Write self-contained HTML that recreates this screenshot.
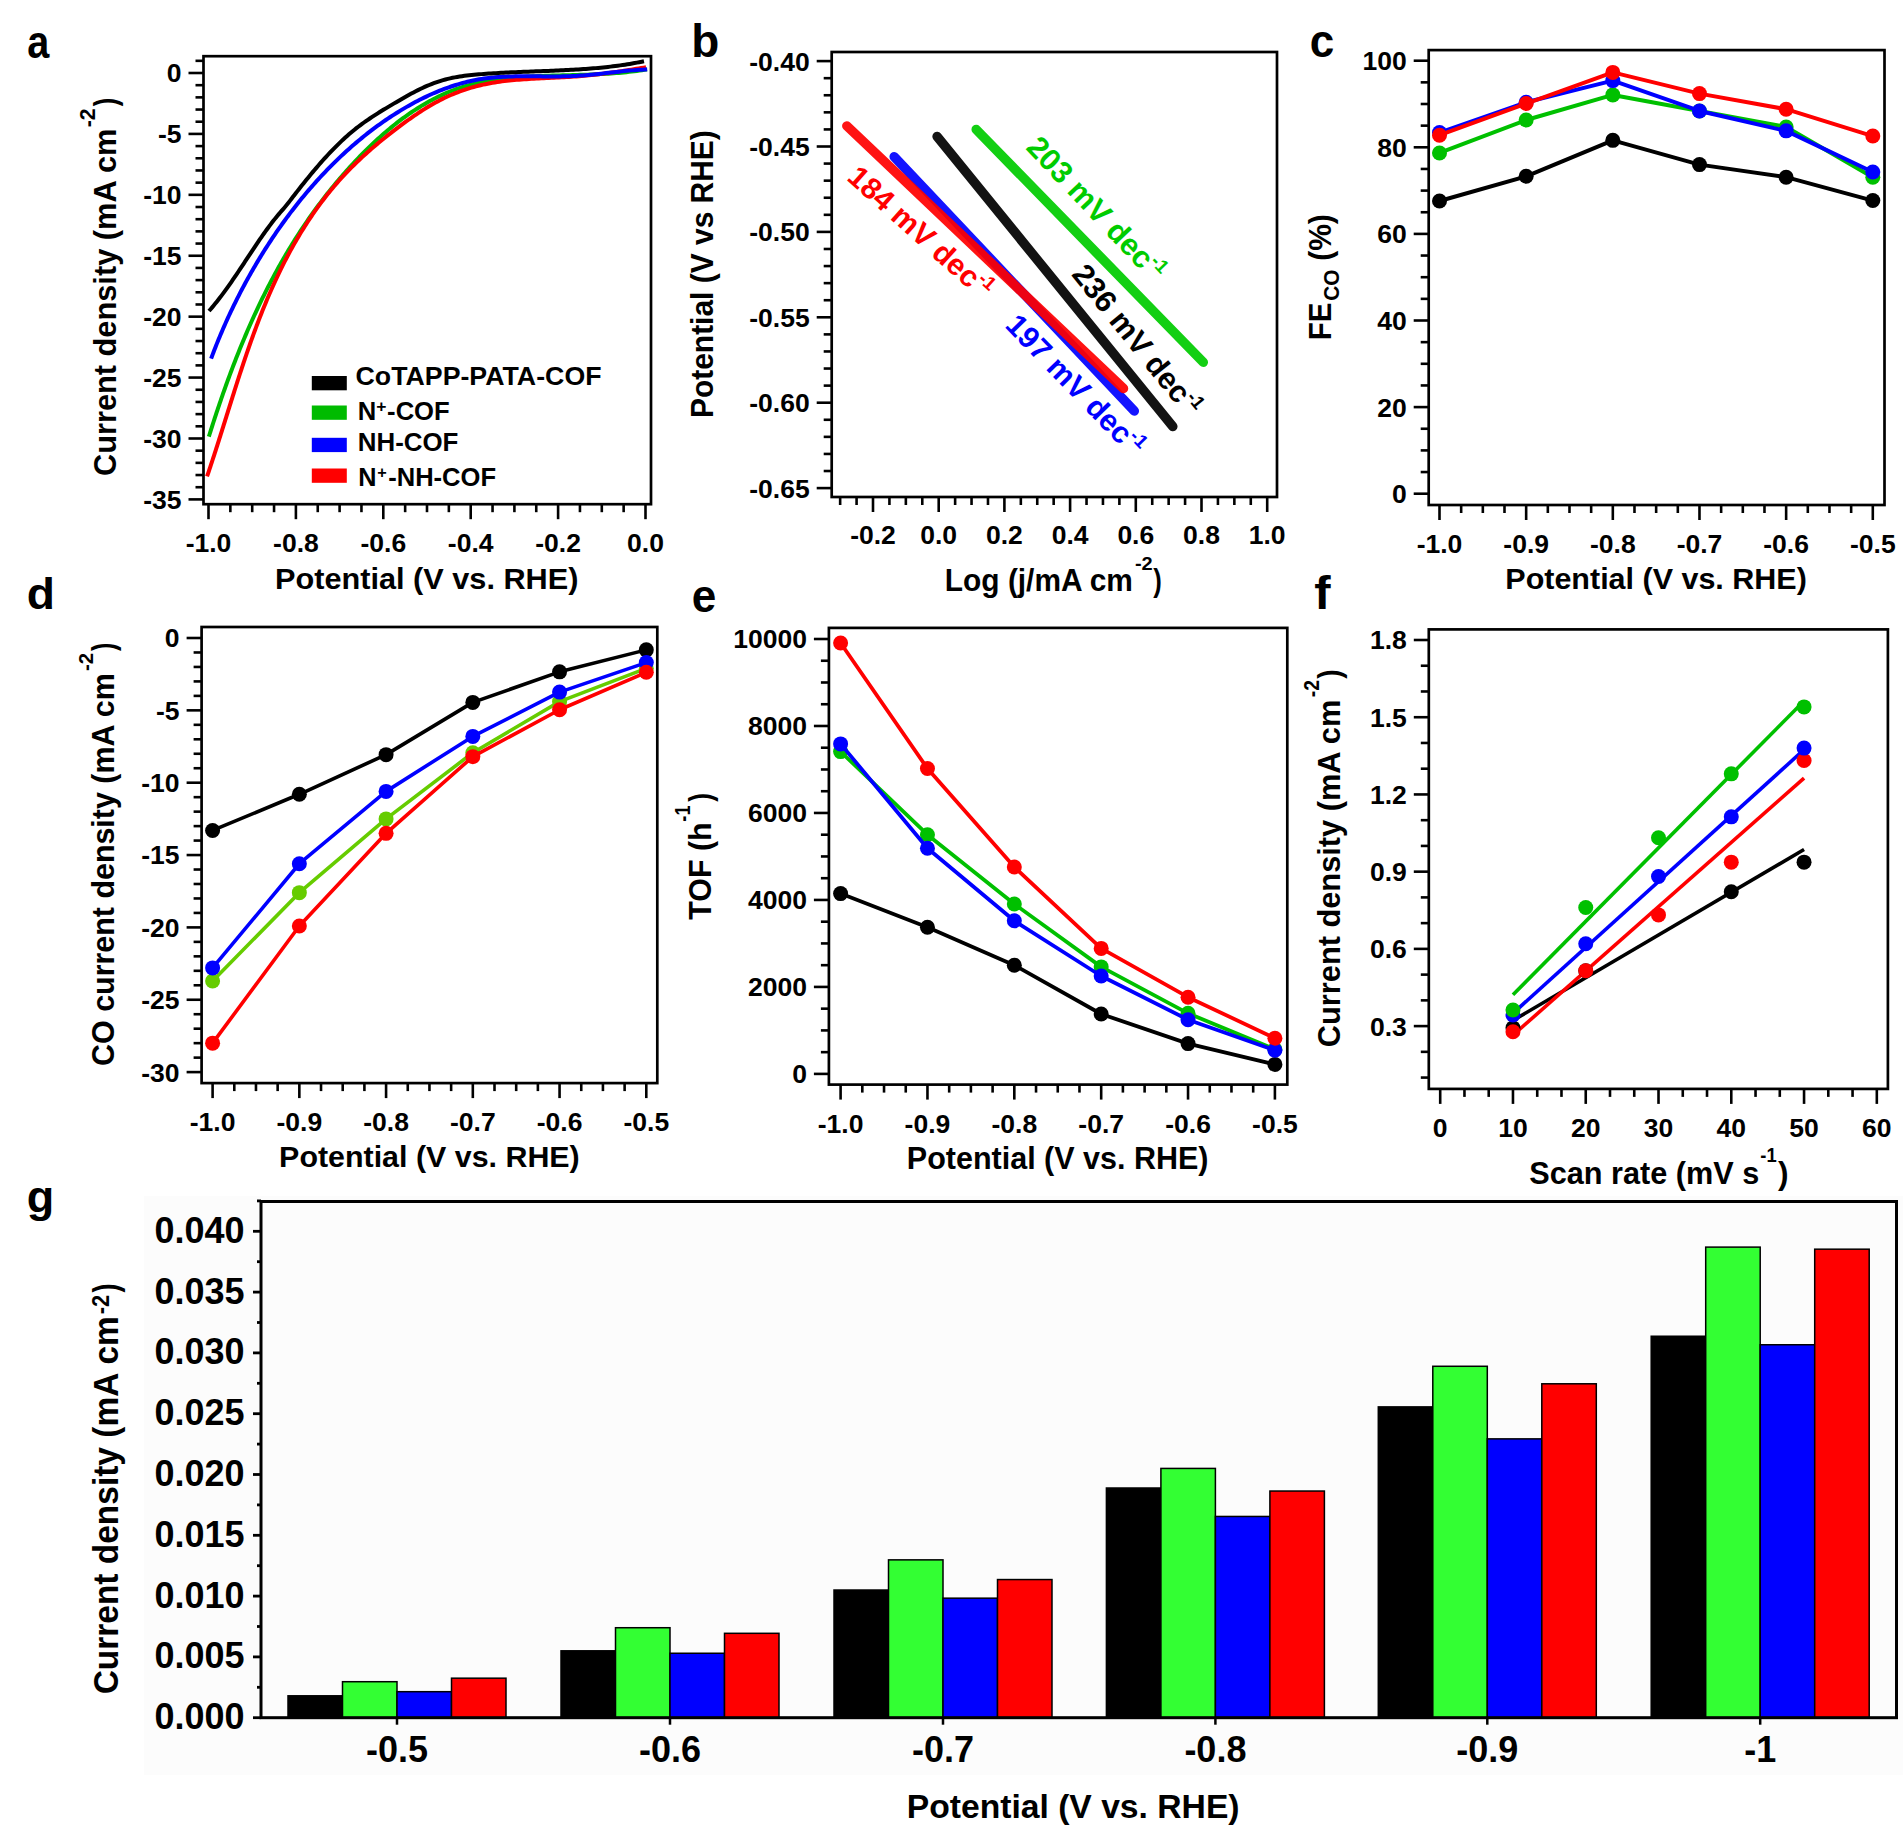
<!DOCTYPE html>
<html><head><meta charset="utf-8"><style>
html,body{margin:0;padding:0;background:#fff;}
svg{display:block;}
text{font-family:"Liberation Sans", sans-serif;font-weight:bold;}
</style></head><body>
<svg width="1903" height="1846" viewBox="0 0 1903 1846">
<rect width="1903" height="1846" fill="#fff"/>
<text transform="translate(27.31 58.23) scale(0.1981 0.2336)" font-size="200" fill="#000">a</text>
<text transform="translate(691.21 57.25) scale(0.2297 0.2272)" font-size="200" fill="#000">b</text>
<text transform="translate(1309.66 57.34) scale(0.2202 0.2318)" font-size="200" fill="#000">c</text>
<text transform="translate(26.65 608.66) scale(0.2307 0.2211)" font-size="200" fill="#000">d</text>
<text transform="translate(691.76 611.53) scale(0.2204 0.2355)" font-size="200" fill="#000">e</text>
<text transform="translate(1314.16 609.47) scale(0.2453 0.2308)" font-size="200" fill="#000">f</text>
<text transform="translate(26.70 1211.95) scale(0.2248 0.2245)" font-size="200" fill="#000">g</text>
<polyline points="208.84,436.65 209.60,434.24 210.35,431.84 211.11,429.43 211.88,427.03 212.65,424.63 213.42,422.24 214.20,419.84 214.98,417.45 215.76,415.06 216.55,412.68 217.34,410.29 218.14,407.91 218.95,405.53 219.75,403.16 220.57,400.79 221.38,398.42 222.20,396.05 223.03,393.68 223.86,391.32 224.70,388.96 225.54,386.61 226.38,384.26 227.23,381.91 228.09,379.56 228.95,377.22 229.82,374.88 230.69,372.54 231.56,370.21 232.45,367.88 233.34,365.55 234.23,363.23 235.13,360.91 236.03,358.59 236.94,356.28 237.86,353.97 238.78,351.66 239.71,349.36 240.64,347.06 241.58,344.77 242.53,342.48 243.48,340.19 244.44,337.90 245.41,335.62 246.38,333.35 247.35,331.08 248.34,328.81 249.33,326.54 250.33,324.28 251.33,322.03 252.34,319.78 253.36,317.53 254.38,315.28 255.41,313.04 256.45,310.81 257.49,308.58 258.54,306.35 259.60,304.13 260.67,301.91 261.74,299.70 262.82,297.49 263.91,295.28 265.00,293.09 266.11,290.89 267.22,288.70 268.33,286.51 269.46,284.33 270.59,282.16 271.73,279.98 272.88,277.82 274.04,275.65 275.20,273.50 276.37,271.34 277.55,269.20 278.74,267.06 279.94,264.92 281.14,262.79 282.36,260.66 283.58,258.54 284.81,256.42 286.04,254.31 287.29,252.20 288.55,250.10 289.81,248.01 291.08,245.92 292.36,243.83 293.65,241.75 294.95,239.68 296.26,237.61 297.58,235.55 298.90,233.49 300.24,231.44 301.58,229.39 302.94,227.35 304.30,225.32 305.67,223.29 307.05,221.27 308.44,219.25 309.84,217.24 311.25,215.24 312.67,213.24 314.10,211.25 315.54,209.26 316.99,207.28 318.45,205.30 319.92,203.34 321.40,201.37 322.89,199.42 324.39,197.47 325.90,195.53 327.41,193.59 328.94,191.66 330.48,189.74 332.03,187.82 333.60,185.91 335.17,184.00 336.75,182.11 338.34,180.21 339.95,178.33 341.56,176.45 343.18,174.58 344.82,172.72 346.47,170.86 348.13,169.01 349.79,167.17 351.47,165.33 353.17,163.50 354.87,161.68 356.58,159.86 358.31,158.06 360.04,156.26 361.79,154.46 363.55,152.68 365.32,150.91 367.10,149.14 368.89,147.39 370.70,145.65 372.51,143.92 374.34,142.20 376.18,140.49 378.02,138.80 379.88,137.12 381.75,135.45 383.63,133.80 385.52,132.17 387.43,130.55 389.34,128.94 391.26,127.36 393.20,125.79 395.14,124.23 397.10,122.70 399.06,121.19 401.04,119.69 403.03,118.22 405.03,116.76 407.04,115.33 409.06,113.91 411.09,112.52 413.13,111.15 415.18,109.81 417.24,108.49 419.31,107.19 421.39,105.91 423.48,104.66 425.58,103.44 427.70,102.24 429.82,101.07 431.95,99.92 434.10,98.80 436.25,97.71 438.41,96.65 440.58,95.62 442.77,94.61 444.96,93.63 447.16,92.69 449.38,91.77 451.60,90.89 453.83,90.03 456.07,89.21 458.33,88.42 460.59,87.66 462.86,86.94 465.14,86.24 467.43,85.58 469.73,84.94 472.04,84.33 474.35,83.75 476.68,83.20 479.01,82.68 481.36,82.18 483.71,81.70 486.07,81.25 488.43,80.82 490.81,80.42 493.19,80.04 495.58,79.68 497.98,79.34 500.38,79.02 502.79,78.71 505.21,78.43 507.64,78.17 510.07,77.92 512.50,77.68 514.95,77.47 517.40,77.27 519.86,77.08 522.32,76.90 524.79,76.74 527.26,76.59 529.74,76.45 532.22,76.32 534.71,76.20 537.21,76.09 539.70,75.99 542.21,75.89 544.72,75.81 547.23,75.72 549.75,75.65 552.27,75.58 554.79,75.51 557.32,75.44 559.85,75.38 562.39,75.32 564.93,75.26 567.47,75.19 570.01,75.13 572.56,75.07 575.11,75.01 577.67,74.94 580.22,74.87 582.78,74.79 585.34,74.71 587.90,74.63 590.47,74.53 593.04,74.44 595.60,74.33 598.17,74.21 600.74,74.09 603.31,73.95 605.89,73.81 608.46,73.65 611.03,73.48 613.61,73.29 616.18,73.10 618.76,72.89 621.33,72.66 623.91,72.42 626.48,72.16 629.06,71.88 631.63,71.59 634.20,71.27 636.78,70.94 639.35,70.59 641.92,70.21 644.49,69.82 647.05,69.40" fill="none" stroke="#00bb00" stroke-width="4" stroke-linejoin="round"/>
<polyline points="207.05,476.46 207.85,474.12 208.64,471.77 209.43,469.42 210.22,467.07 211.00,464.72 211.78,462.36 212.55,460.00 213.32,457.65 214.09,455.28 214.86,452.92 215.62,450.56 216.38,448.19 217.14,445.82 217.90,443.45 218.65,441.08 219.40,438.71 220.15,436.34 220.90,433.96 221.65,431.59 222.40,429.21 223.15,426.83 223.89,424.46 224.64,422.08 225.38,419.70 226.13,417.32 226.87,414.94 227.62,412.56 228.36,410.18 229.11,407.80 229.86,405.42 230.60,403.04 231.35,400.66 232.10,398.28 232.85,395.90 233.61,393.52 234.36,391.14 235.12,388.76 235.88,386.38 236.64,384.00 237.40,381.63 238.17,379.25 238.94,376.88 239.71,374.50 240.48,372.13 241.26,369.76 242.04,367.39 242.83,365.02 243.62,362.65 244.41,360.28 245.21,357.92 246.01,355.56 246.82,353.19 247.63,350.84 248.45,348.48 249.27,346.12 250.10,343.77 250.93,341.42 251.77,339.07 252.61,336.72 253.46,334.38 254.32,332.04 255.18,329.70 256.05,327.37 256.93,325.03 257.81,322.70 258.70,320.37 259.59,318.05 260.50,315.73 261.41,313.41 262.33,311.10 263.26,308.79 264.19,306.48 265.14,304.17 266.09,301.87 267.05,299.58 268.02,297.28 269.00,295.00 269.99,292.71 270.98,290.43 271.99,288.15 273.01,285.88 274.03,283.61 275.07,281.35 276.11,279.09 277.17,276.83 278.24,274.58 279.32,272.34 280.41,270.10 281.51,267.86 282.62,265.63 283.74,263.40 284.87,261.18 286.02,258.97 287.18,256.76 288.35,254.55 289.53,252.36 290.73,250.16 291.93,247.97 293.15,245.79 294.39,243.62 295.63,241.45 296.89,239.29 298.16,237.13 299.45,234.98 300.74,232.84 302.05,230.71 303.37,228.59 304.70,226.47 306.05,224.37 307.41,222.27 308.78,220.19 310.16,218.11 311.56,216.05 312.96,213.99 314.38,211.95 315.81,209.92 317.26,207.89 318.71,205.89 320.18,203.89 321.66,201.91 323.15,199.93 324.65,197.98 326.17,196.03 327.70,194.10 329.24,192.19 330.79,190.29 332.35,188.40 333.93,186.53 335.51,184.67 337.11,182.83 338.72,181.01 340.34,179.20 341.97,177.40 343.62,175.62 345.27,173.86 346.94,172.10 348.62,170.36 350.31,168.64 352.01,166.92 353.73,165.22 355.45,163.54 357.19,161.86 358.94,160.20 360.69,158.54 362.46,156.90 364.24,155.27 366.04,153.65 367.84,152.04 369.65,150.43 371.48,148.84 373.32,147.26 375.16,145.69 377.02,144.12 378.89,142.56 380.77,141.01 382.66,139.47 384.56,137.94 386.48,136.41 388.40,134.89 390.33,133.37 392.28,131.86 394.23,130.36 396.20,128.86 398.18,127.37 400.16,125.88 402.16,124.40 404.17,122.93 406.19,121.46 408.22,120.00 410.26,118.56 412.31,117.12 414.37,115.70 416.44,114.30 418.52,112.91 420.61,111.54 422.71,110.19 424.82,108.86 426.94,107.56 429.07,106.27 431.21,105.01 433.36,103.78 435.52,102.58 437.68,101.40 439.86,100.25 442.05,99.14 444.25,98.06 446.45,97.01 448.67,96.00 450.89,95.02 453.13,94.07 455.37,93.15 457.62,92.27 459.88,91.42 462.15,90.61 464.43,89.82 466.72,89.07 469.02,88.35 471.32,87.66 473.64,87.00 475.96,86.37 478.29,85.77 480.63,85.21 482.98,84.67 485.34,84.17 487.70,83.70 490.07,83.25 492.45,82.83 494.84,82.43 497.24,82.06 499.64,81.72 502.05,81.39 504.46,81.09 506.89,80.81 509.32,80.54 511.75,80.30 514.19,80.07 516.64,79.85 519.09,79.65 521.54,79.47 524.01,79.29 526.47,79.13 528.94,78.97 531.42,78.83 533.89,78.69 536.38,78.56 538.86,78.44 541.35,78.31 543.84,78.20 546.34,78.08 548.84,77.96 551.34,77.85 553.84,77.73 556.35,77.61 558.85,77.48 561.36,77.35 563.87,77.22 566.38,77.08 568.89,76.92 571.40,76.76 573.92,76.59 576.43,76.41 578.94,76.21 581.46,76.00 583.97,75.78 586.48,75.55 588.99,75.30 591.50,75.04 594.01,74.76 596.52,74.48 599.03,74.19 601.53,73.88 604.03,73.57 606.53,73.25 609.03,72.92 611.52,72.58 614.01,72.23 616.50,71.87 618.99,71.51 621.47,71.14 623.95,70.77 626.42,70.39 628.89,70.01 631.35,69.62 633.81,69.22 636.27,68.83 638.72,68.43 641.16,68.02 643.60,67.62 646.03,67.21" fill="none" stroke="#ff0000" stroke-width="4" stroke-linejoin="round"/>
<polyline points="211.11,358.61 211.90,356.48 212.70,354.35 213.51,352.21 214.34,350.07 215.17,347.92 216.02,345.78 216.87,343.63 217.74,341.48 218.62,339.32 219.51,337.17 220.41,335.01 221.33,332.85 222.25,330.69 223.18,328.53 224.13,326.37 225.09,324.20 226.05,322.03 227.03,319.87 228.02,317.70 229.02,315.53 230.03,313.36 231.05,311.20 232.09,309.03 233.13,306.86 234.19,304.69 235.25,302.52 236.33,300.36 237.42,298.19 238.51,296.03 239.62,293.86 240.74,291.70 241.87,289.54 243.01,287.37 244.17,285.22 245.33,283.06 246.50,280.90 247.68,278.75 248.88,276.60 250.08,274.45 251.30,272.31 252.53,270.16 253.76,268.02 255.01,265.89 256.27,263.75 257.54,261.62 258.82,259.50 260.11,257.37 261.41,255.25 262.72,253.14 264.04,251.03 265.37,248.92 266.71,246.82 268.07,244.72 269.43,242.63 270.80,240.54 272.19,238.46 273.58,236.38 274.99,234.31 276.40,232.24 277.83,230.18 279.26,228.13 280.71,226.08 282.17,224.03 283.63,222.00 285.11,219.97 286.60,217.94 288.10,215.93 289.60,213.92 291.12,211.91 292.65,209.92 294.19,207.93 295.74,205.95 297.29,203.98 298.86,202.01 300.44,200.06 302.03,198.11 303.63,196.17 305.24,194.23 306.86,192.31 308.49,190.40 310.13,188.49 311.78,186.60 313.44,184.71 315.11,182.83 316.79,180.96 318.48,179.11 320.17,177.26 321.88,175.42 323.60,173.59 325.33,171.77 327.07,169.97 328.82,168.17 330.58,166.39 332.35,164.61 334.13,162.85 335.91,161.10 337.71,159.36 339.52,157.63 341.34,155.91 343.17,154.20 345.00,152.51 346.85,150.83 348.71,149.16 350.57,147.51 352.45,145.86 354.33,144.23 356.23,142.62 358.13,141.01 360.05,139.42 361.97,137.84 363.91,136.28 365.85,134.73 367.80,133.19 369.77,131.67 371.74,130.16 373.72,128.67 375.71,127.19 377.71,125.73 379.72,124.28 381.74,122.85 383.77,121.43 385.81,120.02 387.86,118.64 389.91,117.27 391.98,115.91 394.06,114.57 396.14,113.24 398.24,111.94 400.34,110.65 402.45,109.37 404.58,108.11 406.71,106.87 408.85,105.65 411.00,104.45 413.16,103.26 415.32,102.10 417.50,100.95 419.69,99.83 421.88,98.72 424.08,97.64 426.29,96.58 428.51,95.54 430.73,94.52 432.97,93.53 435.21,92.56 437.46,91.62 439.72,90.70 441.98,89.80 444.26,88.93 446.54,88.09 448.82,87.28 451.12,86.49 453.42,85.73 455.73,84.99 458.05,84.29 460.37,83.62 462.70,82.97 465.04,82.36 467.38,81.77 469.73,81.22 472.08,80.70 474.45,80.21 476.81,79.75 479.19,79.32 481.57,78.93 483.95,78.58 486.35,78.25 488.74,77.96 491.15,77.69 493.56,77.46 495.97,77.25 498.39,77.06 500.82,76.90 503.25,76.76 505.68,76.65 508.12,76.55 510.57,76.47 513.02,76.40 515.47,76.35 517.93,76.32 520.39,76.29 522.86,76.28 525.33,76.28 527.81,76.28 530.29,76.29 532.77,76.31 535.26,76.32 537.76,76.34 540.25,76.37 542.75,76.39 545.25,76.40 547.76,76.42 550.27,76.42 552.78,76.43 555.30,76.42 557.82,76.40 560.34,76.38 562.87,76.34 565.39,76.28 567.92,76.21 570.46,76.13 572.99,76.02 575.53,75.90 578.07,75.75 580.61,75.59 583.16,75.40 585.70,75.19 588.25,74.97 590.80,74.73 593.35,74.48 595.91,74.21 598.46,73.94 601.02,73.66 603.58,73.38 606.14,73.09 608.70,72.79 611.26,72.50 613.82,72.21 616.38,71.93 618.95,71.64 621.51,71.37 624.08,71.11 626.64,70.85 629.21,70.61 631.77,70.38 634.34,70.18 636.91,69.98 639.47,69.81 642.04,69.66 644.61,69.54 647.17,69.44" fill="none" stroke="#0000ff" stroke-width="4" stroke-linejoin="round"/>
<polyline points="209.00,311.02 210.59,309.19 212.16,307.34 213.72,305.47 215.27,303.58 216.80,301.67 218.32,299.74 219.83,297.80 221.32,295.84 222.81,293.87 224.28,291.88 225.74,289.88 227.19,287.87 228.63,285.84 230.06,283.81 231.48,281.78 232.89,279.73 234.30,277.68 235.69,275.63 237.08,273.57 238.46,271.51 239.84,269.45 241.21,267.39 242.57,265.33 243.93,263.28 245.28,261.22 246.63,259.18 247.98,257.14 249.32,255.10 250.66,253.08 251.99,251.06 253.33,249.06 254.66,247.06 255.99,245.08 257.32,243.11 258.65,241.16 259.97,239.22 261.30,237.30 262.63,235.39 263.96,233.50 265.30,231.63 266.63,229.78 267.97,227.95 269.31,226.14 270.65,224.35 272.00,222.58 273.36,220.84 274.71,219.12 276.07,217.42 277.44,215.75 278.82,214.11 280.20,212.49 281.58,210.90 282.98,209.31 284.38,207.68 285.79,206.01 287.21,204.27 288.64,202.46 290.08,200.61 291.53,198.73 292.98,196.84 294.45,194.94 295.93,193.04 297.42,191.13 298.92,189.21 300.43,187.29 301.96,185.37 303.49,183.44 305.03,181.52 306.58,179.59 308.15,177.66 309.72,175.74 311.31,173.82 312.90,171.90 314.51,169.99 316.13,168.09 317.75,166.19 319.39,164.30 321.04,162.41 322.70,160.54 324.38,158.68 326.06,156.83 327.75,154.99 329.46,153.17 331.17,151.36 332.90,149.57 334.64,147.80 336.39,146.04 338.15,144.30 339.92,142.59 341.70,140.89 343.49,139.22 345.30,137.56 347.12,135.94 348.94,134.33 350.78,132.76 352.63,131.21 354.49,129.68 356.37,128.19 358.25,126.73 360.15,125.29 362.06,123.88 363.97,122.50 365.90,121.13 367.85,119.79 369.80,118.47 371.77,117.16 373.74,115.87 375.73,114.59 377.73,113.32 379.74,112.07 381.77,110.82 383.80,109.58 385.85,108.34 387.91,107.11 389.98,105.87 392.07,104.64 394.16,103.40 396.27,102.16 398.39,100.91 400.52,99.66 402.66,98.42 404.82,97.19 406.98,95.97 409.16,94.76 411.35,93.57 413.55,92.40 415.76,91.26 417.99,90.13 420.22,89.04 422.46,87.97 424.71,86.94 426.98,85.94 429.25,84.98 431.53,84.05 433.82,83.17 436.12,82.33 438.43,81.54 440.75,80.80 443.08,80.11 445.41,79.47 447.75,78.88 450.11,78.33 452.46,77.82 454.83,77.36 457.20,76.93 459.58,76.53 461.97,76.17 464.37,75.84 466.77,75.53 469.17,75.25 471.59,74.99 474.01,74.75 476.43,74.53 478.86,74.32 481.30,74.13 483.74,73.94 486.18,73.76 488.64,73.59 491.09,73.43 493.55,73.28 496.01,73.13 498.48,72.99 500.95,72.85 503.43,72.72 505.91,72.60 508.39,72.48 510.87,72.36 513.36,72.25 515.85,72.14 518.34,72.04 520.84,71.94 523.33,71.84 525.83,71.74 528.33,71.65 530.83,71.55 533.34,71.46 535.84,71.36 538.34,71.27 540.85,71.18 543.35,71.08 545.86,70.98 548.37,70.89 550.87,70.78 553.38,70.68 555.88,70.58 558.38,70.47 560.89,70.35 563.39,70.23 565.89,70.11 568.39,69.98 570.88,69.85 573.38,69.71 575.87,69.57 578.36,69.41 580.85,69.25 583.33,69.09 585.82,68.91 588.30,68.73 590.77,68.54 593.24,68.33 595.71,68.12 598.18,67.90 600.64,67.67 603.09,67.43 605.54,67.17 607.99,66.91 610.43,66.63 612.87,66.34 615.30,66.03 617.73,65.72 620.15,65.38 622.56,65.04 624.97,64.68 627.37,64.30 629.77,63.91 632.15,63.51 634.54,63.09 636.91,62.65 639.28,62.19 641.64,61.72 643.99,61.22" fill="none" stroke="#000000" stroke-width="4" stroke-linejoin="round"/>
<rect x="203.50" y="56.20" width="447.50" height="448.00" fill="none" stroke="#000" stroke-width="2.7"/>
<line x1="188.50" y1="499.40" x2="203.50" y2="499.40" stroke="#000" stroke-width="2.6" stroke-linecap="butt"/>
<line x1="195.50" y1="487.22" x2="203.50" y2="487.22" stroke="#000" stroke-width="2.6" stroke-linecap="butt"/>
<line x1="195.50" y1="475.04" x2="203.50" y2="475.04" stroke="#000" stroke-width="2.6" stroke-linecap="butt"/>
<line x1="195.50" y1="462.86" x2="203.50" y2="462.86" stroke="#000" stroke-width="2.6" stroke-linecap="butt"/>
<line x1="195.50" y1="450.67" x2="203.50" y2="450.67" stroke="#000" stroke-width="2.6" stroke-linecap="butt"/>
<line x1="188.50" y1="438.49" x2="203.50" y2="438.49" stroke="#000" stroke-width="2.6" stroke-linecap="butt"/>
<line x1="195.50" y1="426.31" x2="203.50" y2="426.31" stroke="#000" stroke-width="2.6" stroke-linecap="butt"/>
<line x1="195.50" y1="414.12" x2="203.50" y2="414.12" stroke="#000" stroke-width="2.6" stroke-linecap="butt"/>
<line x1="195.50" y1="401.94" x2="203.50" y2="401.94" stroke="#000" stroke-width="2.6" stroke-linecap="butt"/>
<line x1="195.50" y1="389.76" x2="203.50" y2="389.76" stroke="#000" stroke-width="2.6" stroke-linecap="butt"/>
<line x1="188.50" y1="377.57" x2="203.50" y2="377.57" stroke="#000" stroke-width="2.6" stroke-linecap="butt"/>
<line x1="195.50" y1="365.39" x2="203.50" y2="365.39" stroke="#000" stroke-width="2.6" stroke-linecap="butt"/>
<line x1="195.50" y1="353.21" x2="203.50" y2="353.21" stroke="#000" stroke-width="2.6" stroke-linecap="butt"/>
<line x1="195.50" y1="341.03" x2="203.50" y2="341.03" stroke="#000" stroke-width="2.6" stroke-linecap="butt"/>
<line x1="195.50" y1="328.84" x2="203.50" y2="328.84" stroke="#000" stroke-width="2.6" stroke-linecap="butt"/>
<line x1="188.50" y1="316.66" x2="203.50" y2="316.66" stroke="#000" stroke-width="2.6" stroke-linecap="butt"/>
<line x1="195.50" y1="304.48" x2="203.50" y2="304.48" stroke="#000" stroke-width="2.6" stroke-linecap="butt"/>
<line x1="195.50" y1="292.29" x2="203.50" y2="292.29" stroke="#000" stroke-width="2.6" stroke-linecap="butt"/>
<line x1="195.50" y1="280.11" x2="203.50" y2="280.11" stroke="#000" stroke-width="2.6" stroke-linecap="butt"/>
<line x1="195.50" y1="267.93" x2="203.50" y2="267.93" stroke="#000" stroke-width="2.6" stroke-linecap="butt"/>
<line x1="188.50" y1="255.75" x2="203.50" y2="255.75" stroke="#000" stroke-width="2.6" stroke-linecap="butt"/>
<line x1="195.50" y1="243.56" x2="203.50" y2="243.56" stroke="#000" stroke-width="2.6" stroke-linecap="butt"/>
<line x1="195.50" y1="231.38" x2="203.50" y2="231.38" stroke="#000" stroke-width="2.6" stroke-linecap="butt"/>
<line x1="195.50" y1="219.20" x2="203.50" y2="219.20" stroke="#000" stroke-width="2.6" stroke-linecap="butt"/>
<line x1="195.50" y1="207.01" x2="203.50" y2="207.01" stroke="#000" stroke-width="2.6" stroke-linecap="butt"/>
<line x1="188.50" y1="194.83" x2="203.50" y2="194.83" stroke="#000" stroke-width="2.6" stroke-linecap="butt"/>
<line x1="195.50" y1="182.65" x2="203.50" y2="182.65" stroke="#000" stroke-width="2.6" stroke-linecap="butt"/>
<line x1="195.50" y1="170.46" x2="203.50" y2="170.46" stroke="#000" stroke-width="2.6" stroke-linecap="butt"/>
<line x1="195.50" y1="158.28" x2="203.50" y2="158.28" stroke="#000" stroke-width="2.6" stroke-linecap="butt"/>
<line x1="195.50" y1="146.10" x2="203.50" y2="146.10" stroke="#000" stroke-width="2.6" stroke-linecap="butt"/>
<line x1="188.50" y1="133.91" x2="203.50" y2="133.91" stroke="#000" stroke-width="2.6" stroke-linecap="butt"/>
<line x1="195.50" y1="121.73" x2="203.50" y2="121.73" stroke="#000" stroke-width="2.6" stroke-linecap="butt"/>
<line x1="195.50" y1="109.55" x2="203.50" y2="109.55" stroke="#000" stroke-width="2.6" stroke-linecap="butt"/>
<line x1="195.50" y1="97.37" x2="203.50" y2="97.37" stroke="#000" stroke-width="2.6" stroke-linecap="butt"/>
<line x1="195.50" y1="85.18" x2="203.50" y2="85.18" stroke="#000" stroke-width="2.6" stroke-linecap="butt"/>
<line x1="188.50" y1="73.00" x2="203.50" y2="73.00" stroke="#000" stroke-width="2.6" stroke-linecap="butt"/>
<line x1="195.50" y1="60.82" x2="203.50" y2="60.82" stroke="#000" stroke-width="2.6" stroke-linecap="butt"/>
<text x="181.50" y="508.80" font-size="26.5" text-anchor="end" fill="#000">-35</text>
<text x="181.50" y="447.89" font-size="26.5" text-anchor="end" fill="#000">-30</text>
<text x="181.50" y="386.97" font-size="26.5" text-anchor="end" fill="#000">-25</text>
<text x="181.50" y="326.06" font-size="26.5" text-anchor="end" fill="#000">-20</text>
<text x="181.50" y="265.14" font-size="26.5" text-anchor="end" fill="#000">-15</text>
<text x="181.50" y="204.23" font-size="26.5" text-anchor="end" fill="#000">-10</text>
<text x="181.50" y="143.31" font-size="26.5" text-anchor="end" fill="#000">-5</text>
<text x="181.50" y="82.40" font-size="26.5" text-anchor="end" fill="#000">0</text>
<line x1="208.50" y1="504.20" x2="208.50" y2="519.20" stroke="#000" stroke-width="2.6" stroke-linecap="butt"/>
<line x1="230.35" y1="504.20" x2="230.35" y2="512.20" stroke="#000" stroke-width="2.6" stroke-linecap="butt"/>
<line x1="252.20" y1="504.20" x2="252.20" y2="512.20" stroke="#000" stroke-width="2.6" stroke-linecap="butt"/>
<line x1="274.05" y1="504.20" x2="274.05" y2="512.20" stroke="#000" stroke-width="2.6" stroke-linecap="butt"/>
<line x1="295.90" y1="504.20" x2="295.90" y2="519.20" stroke="#000" stroke-width="2.6" stroke-linecap="butt"/>
<line x1="317.75" y1="504.20" x2="317.75" y2="512.20" stroke="#000" stroke-width="2.6" stroke-linecap="butt"/>
<line x1="339.60" y1="504.20" x2="339.60" y2="512.20" stroke="#000" stroke-width="2.6" stroke-linecap="butt"/>
<line x1="361.45" y1="504.20" x2="361.45" y2="512.20" stroke="#000" stroke-width="2.6" stroke-linecap="butt"/>
<line x1="383.30" y1="504.20" x2="383.30" y2="519.20" stroke="#000" stroke-width="2.6" stroke-linecap="butt"/>
<line x1="405.15" y1="504.20" x2="405.15" y2="512.20" stroke="#000" stroke-width="2.6" stroke-linecap="butt"/>
<line x1="427.00" y1="504.20" x2="427.00" y2="512.20" stroke="#000" stroke-width="2.6" stroke-linecap="butt"/>
<line x1="448.85" y1="504.20" x2="448.85" y2="512.20" stroke="#000" stroke-width="2.6" stroke-linecap="butt"/>
<line x1="470.70" y1="504.20" x2="470.70" y2="519.20" stroke="#000" stroke-width="2.6" stroke-linecap="butt"/>
<line x1="492.55" y1="504.20" x2="492.55" y2="512.20" stroke="#000" stroke-width="2.6" stroke-linecap="butt"/>
<line x1="514.40" y1="504.20" x2="514.40" y2="512.20" stroke="#000" stroke-width="2.6" stroke-linecap="butt"/>
<line x1="536.25" y1="504.20" x2="536.25" y2="512.20" stroke="#000" stroke-width="2.6" stroke-linecap="butt"/>
<line x1="558.10" y1="504.20" x2="558.10" y2="519.20" stroke="#000" stroke-width="2.6" stroke-linecap="butt"/>
<line x1="579.95" y1="504.20" x2="579.95" y2="512.20" stroke="#000" stroke-width="2.6" stroke-linecap="butt"/>
<line x1="601.80" y1="504.20" x2="601.80" y2="512.20" stroke="#000" stroke-width="2.6" stroke-linecap="butt"/>
<line x1="623.65" y1="504.20" x2="623.65" y2="512.20" stroke="#000" stroke-width="2.6" stroke-linecap="butt"/>
<line x1="645.50" y1="504.20" x2="645.50" y2="519.20" stroke="#000" stroke-width="2.6" stroke-linecap="butt"/>
<text x="208.50" y="552.20" font-size="26.5" text-anchor="middle" fill="#000">-1.0</text>
<text x="295.90" y="552.20" font-size="26.5" text-anchor="middle" fill="#000">-0.8</text>
<text x="383.30" y="552.20" font-size="26.5" text-anchor="middle" fill="#000">-0.6</text>
<text x="470.70" y="552.20" font-size="26.5" text-anchor="middle" fill="#000">-0.4</text>
<text x="558.10" y="552.20" font-size="26.5" text-anchor="middle" fill="#000">-0.2</text>
<text x="645.50" y="552.20" font-size="26.5" text-anchor="middle" fill="#000">0.0</text>
<rect x="311.8" y="376" width="35" height="14.3" fill="#000000"/>
<rect x="311.8" y="405.5" width="35" height="14.3" fill="#00bb00"/>
<rect x="311.8" y="437.8" width="35" height="14.3" fill="#0000ff"/>
<rect x="311.8" y="468.5" width="35" height="14.3" fill="#ff0000"/>
<text transform="translate(355.53 385.30) scale(1.0287 1)" font-size="26" fill="#000">CoTAPP-PATA-COF</text>
<text transform="translate(357.84 420.40) scale(0.9658 1)" font-size="26.5" fill="#000">N</text>
<text transform="translate(376.30 412.16) scale(0.0871 0.0853)" font-size="200" fill="#000">+</text>
<text transform="translate(387.10 420.40) scale(0.9668 1)" font-size="26.5" fill="#000">-COF</text>
<text transform="translate(357.82 451.20) scale(0.9764 1)" font-size="26.5" fill="#000">NH-COF</text>
<text transform="translate(358.26 486.30) scale(0.9530 1)" font-size="26.5" fill="#000">N</text>
<text transform="translate(377.35 477.60) scale(0.0812 0.0814)" font-size="200" fill="#000">+</text>
<text transform="translate(388.21 486.30) scale(0.9638 1)" font-size="26.5" fill="#000">-NH-COF</text>
<text transform="translate(275.00 588.80) scale(1.0657 1)" font-size="28.8" fill="#000">Potential (V vs. RHE)</text>
<text transform="translate(115.90 476.03) rotate(-90) scale(0.9767 1)" font-size="31.5" fill="#000">Current density (mA cm</text>
<text transform="translate(95.00 127.24) rotate(-90) scale(0.9701 1)" font-size="21.8" fill="#000">-2</text>
<text transform="translate(115.90 106.20) rotate(-90) scale(0.8020 1)" font-size="31.5" fill="#000">)</text>
<line x1="937.1" y1="136.5" x2="1172.8" y2="426.6" stroke="#000000" stroke-width="9.5" stroke-linecap="round" opacity="0.92"/>
<line x1="976.2" y1="129.5" x2="1203.3" y2="362.3" stroke="#00cc00" stroke-width="9.5" stroke-linecap="round" opacity="0.92"/>
<line x1="894.2" y1="156.7" x2="1134.3" y2="411" stroke="#0000ff" stroke-width="9.5" stroke-linecap="round" opacity="0.92"/>
<line x1="846.8" y1="125.9" x2="1123.5" y2="388.5" stroke="#ff0000" stroke-width="9.5" stroke-linecap="round" opacity="0.92"/>
<rect x="831.70" y="52.00" width="445.30" height="445.00" fill="none" stroke="#000" stroke-width="2.7"/>
<line x1="816.70" y1="488.10" x2="831.70" y2="488.10" stroke="#000" stroke-width="2.6" stroke-linecap="butt"/>
<line x1="823.70" y1="471.02" x2="831.70" y2="471.02" stroke="#000" stroke-width="2.6" stroke-linecap="butt"/>
<line x1="823.70" y1="453.94" x2="831.70" y2="453.94" stroke="#000" stroke-width="2.6" stroke-linecap="butt"/>
<line x1="823.70" y1="436.86" x2="831.70" y2="436.86" stroke="#000" stroke-width="2.6" stroke-linecap="butt"/>
<line x1="823.70" y1="419.78" x2="831.70" y2="419.78" stroke="#000" stroke-width="2.6" stroke-linecap="butt"/>
<line x1="816.70" y1="402.70" x2="831.70" y2="402.70" stroke="#000" stroke-width="2.6" stroke-linecap="butt"/>
<line x1="823.70" y1="385.62" x2="831.70" y2="385.62" stroke="#000" stroke-width="2.6" stroke-linecap="butt"/>
<line x1="823.70" y1="368.54" x2="831.70" y2="368.54" stroke="#000" stroke-width="2.6" stroke-linecap="butt"/>
<line x1="823.70" y1="351.46" x2="831.70" y2="351.46" stroke="#000" stroke-width="2.6" stroke-linecap="butt"/>
<line x1="823.70" y1="334.38" x2="831.70" y2="334.38" stroke="#000" stroke-width="2.6" stroke-linecap="butt"/>
<line x1="816.70" y1="317.30" x2="831.70" y2="317.30" stroke="#000" stroke-width="2.6" stroke-linecap="butt"/>
<line x1="823.70" y1="300.22" x2="831.70" y2="300.22" stroke="#000" stroke-width="2.6" stroke-linecap="butt"/>
<line x1="823.70" y1="283.14" x2="831.70" y2="283.14" stroke="#000" stroke-width="2.6" stroke-linecap="butt"/>
<line x1="823.70" y1="266.06" x2="831.70" y2="266.06" stroke="#000" stroke-width="2.6" stroke-linecap="butt"/>
<line x1="823.70" y1="248.98" x2="831.70" y2="248.98" stroke="#000" stroke-width="2.6" stroke-linecap="butt"/>
<line x1="816.70" y1="231.90" x2="831.70" y2="231.90" stroke="#000" stroke-width="2.6" stroke-linecap="butt"/>
<line x1="823.70" y1="214.82" x2="831.70" y2="214.82" stroke="#000" stroke-width="2.6" stroke-linecap="butt"/>
<line x1="823.70" y1="197.74" x2="831.70" y2="197.74" stroke="#000" stroke-width="2.6" stroke-linecap="butt"/>
<line x1="823.70" y1="180.66" x2="831.70" y2="180.66" stroke="#000" stroke-width="2.6" stroke-linecap="butt"/>
<line x1="823.70" y1="163.58" x2="831.70" y2="163.58" stroke="#000" stroke-width="2.6" stroke-linecap="butt"/>
<line x1="816.70" y1="146.50" x2="831.70" y2="146.50" stroke="#000" stroke-width="2.6" stroke-linecap="butt"/>
<line x1="823.70" y1="129.42" x2="831.70" y2="129.42" stroke="#000" stroke-width="2.6" stroke-linecap="butt"/>
<line x1="823.70" y1="112.34" x2="831.70" y2="112.34" stroke="#000" stroke-width="2.6" stroke-linecap="butt"/>
<line x1="823.70" y1="95.26" x2="831.70" y2="95.26" stroke="#000" stroke-width="2.6" stroke-linecap="butt"/>
<line x1="823.70" y1="78.18" x2="831.70" y2="78.18" stroke="#000" stroke-width="2.6" stroke-linecap="butt"/>
<line x1="816.70" y1="61.10" x2="831.70" y2="61.10" stroke="#000" stroke-width="2.6" stroke-linecap="butt"/>
<text x="809.70" y="497.50" font-size="26.5" text-anchor="end" fill="#000">-0.65</text>
<text x="809.70" y="412.10" font-size="26.5" text-anchor="end" fill="#000">-0.60</text>
<text x="809.70" y="326.70" font-size="26.5" text-anchor="end" fill="#000">-0.55</text>
<text x="809.70" y="241.30" font-size="26.5" text-anchor="end" fill="#000">-0.50</text>
<text x="809.70" y="155.90" font-size="26.5" text-anchor="end" fill="#000">-0.45</text>
<text x="809.70" y="70.50" font-size="26.5" text-anchor="end" fill="#000">-0.40</text>
<line x1="840.15" y1="497.00" x2="840.15" y2="505.00" stroke="#000" stroke-width="2.6" stroke-linecap="butt"/>
<line x1="856.58" y1="497.00" x2="856.58" y2="505.00" stroke="#000" stroke-width="2.6" stroke-linecap="butt"/>
<line x1="873.00" y1="497.00" x2="873.00" y2="512.00" stroke="#000" stroke-width="2.6" stroke-linecap="butt"/>
<line x1="889.43" y1="497.00" x2="889.43" y2="505.00" stroke="#000" stroke-width="2.6" stroke-linecap="butt"/>
<line x1="905.85" y1="497.00" x2="905.85" y2="505.00" stroke="#000" stroke-width="2.6" stroke-linecap="butt"/>
<line x1="922.28" y1="497.00" x2="922.28" y2="505.00" stroke="#000" stroke-width="2.6" stroke-linecap="butt"/>
<line x1="938.70" y1="497.00" x2="938.70" y2="512.00" stroke="#000" stroke-width="2.6" stroke-linecap="butt"/>
<line x1="955.13" y1="497.00" x2="955.13" y2="505.00" stroke="#000" stroke-width="2.6" stroke-linecap="butt"/>
<line x1="971.55" y1="497.00" x2="971.55" y2="505.00" stroke="#000" stroke-width="2.6" stroke-linecap="butt"/>
<line x1="987.98" y1="497.00" x2="987.98" y2="505.00" stroke="#000" stroke-width="2.6" stroke-linecap="butt"/>
<line x1="1004.40" y1="497.00" x2="1004.40" y2="512.00" stroke="#000" stroke-width="2.6" stroke-linecap="butt"/>
<line x1="1020.83" y1="497.00" x2="1020.83" y2="505.00" stroke="#000" stroke-width="2.6" stroke-linecap="butt"/>
<line x1="1037.25" y1="497.00" x2="1037.25" y2="505.00" stroke="#000" stroke-width="2.6" stroke-linecap="butt"/>
<line x1="1053.67" y1="497.00" x2="1053.67" y2="505.00" stroke="#000" stroke-width="2.6" stroke-linecap="butt"/>
<line x1="1070.10" y1="497.00" x2="1070.10" y2="512.00" stroke="#000" stroke-width="2.6" stroke-linecap="butt"/>
<line x1="1086.53" y1="497.00" x2="1086.53" y2="505.00" stroke="#000" stroke-width="2.6" stroke-linecap="butt"/>
<line x1="1102.95" y1="497.00" x2="1102.95" y2="505.00" stroke="#000" stroke-width="2.6" stroke-linecap="butt"/>
<line x1="1119.38" y1="497.00" x2="1119.38" y2="505.00" stroke="#000" stroke-width="2.6" stroke-linecap="butt"/>
<line x1="1135.80" y1="497.00" x2="1135.80" y2="512.00" stroke="#000" stroke-width="2.6" stroke-linecap="butt"/>
<line x1="1152.23" y1="497.00" x2="1152.23" y2="505.00" stroke="#000" stroke-width="2.6" stroke-linecap="butt"/>
<line x1="1168.65" y1="497.00" x2="1168.65" y2="505.00" stroke="#000" stroke-width="2.6" stroke-linecap="butt"/>
<line x1="1185.08" y1="497.00" x2="1185.08" y2="505.00" stroke="#000" stroke-width="2.6" stroke-linecap="butt"/>
<line x1="1201.50" y1="497.00" x2="1201.50" y2="512.00" stroke="#000" stroke-width="2.6" stroke-linecap="butt"/>
<line x1="1217.93" y1="497.00" x2="1217.93" y2="505.00" stroke="#000" stroke-width="2.6" stroke-linecap="butt"/>
<line x1="1234.35" y1="497.00" x2="1234.35" y2="505.00" stroke="#000" stroke-width="2.6" stroke-linecap="butt"/>
<line x1="1250.78" y1="497.00" x2="1250.78" y2="505.00" stroke="#000" stroke-width="2.6" stroke-linecap="butt"/>
<line x1="1267.20" y1="497.00" x2="1267.20" y2="512.00" stroke="#000" stroke-width="2.6" stroke-linecap="butt"/>
<text x="873.00" y="544.00" font-size="26.5" text-anchor="middle" fill="#000">-0.2</text>
<text x="938.70" y="544.00" font-size="26.5" text-anchor="middle" fill="#000">0.0</text>
<text x="1004.40" y="544.00" font-size="26.5" text-anchor="middle" fill="#000">0.2</text>
<text x="1070.10" y="544.00" font-size="26.5" text-anchor="middle" fill="#000">0.4</text>
<text x="1135.80" y="544.00" font-size="26.5" text-anchor="middle" fill="#000">0.6</text>
<text x="1201.50" y="544.00" font-size="26.5" text-anchor="middle" fill="#000">0.8</text>
<text x="1267.20" y="544.00" font-size="26.5" text-anchor="middle" fill="#000">1.0</text>
<text transform="translate(845.8 179.3) rotate(41.8)" font-size="30" fill="#ff0000">184 mV dec<tspan font-size="19" dy="-12">-1</tspan></text>
<text transform="translate(1004.1 326.6) rotate(45.8)" font-size="30.2" fill="#0000ff">197 mV dec<tspan font-size="19" dy="-12">-1</tspan></text>
<text transform="translate(1070.7 274.8) rotate(51)" font-size="30.5" fill="#000000">236 mV dec<tspan font-size="19" dy="-12">-1</tspan></text>
<text transform="translate(1024.9 148.5) rotate(46.5)" font-size="30.6" fill="#00cc00">203 mV dec<tspan font-size="19" dy="-12">-1</tspan></text>
<text transform="translate(944.86 590.50) scale(0.9575 1)" font-size="31.2" fill="#000">Log (j/mA cm</text>
<text transform="translate(1134.90 569.70) scale(1.1200 1)" font-size="17.9" fill="#000">-2</text>
<text transform="translate(1153.30 590.50) scale(0.8210 1)" font-size="31.2" fill="#000">)</text>
<text transform="translate(712.50 418.05) rotate(-90) scale(0.9664 1)" font-size="31" fill="#000">Potential (V vs RHE)</text>
<polyline points="1439.50,200.99 1526.16,176.31 1612.82,140.37 1699.48,164.62 1786.14,177.18 1872.80,200.56" fill="none" stroke="#000000" stroke-width="4" stroke-linejoin="round"/>
<circle cx="1439.50" cy="200.99" r="7.5" fill="#000000"/>
<circle cx="1526.16" cy="176.31" r="7.5" fill="#000000"/>
<circle cx="1612.82" cy="140.37" r="7.5" fill="#000000"/>
<circle cx="1699.48" cy="164.62" r="7.5" fill="#000000"/>
<circle cx="1786.14" cy="177.18" r="7.5" fill="#000000"/>
<circle cx="1872.80" cy="200.56" r="7.5" fill="#000000"/>
<polyline points="1439.50,152.93 1526.16,120.02 1612.82,94.91 1699.48,110.93 1786.14,126.95 1872.80,177.18" fill="none" stroke="#00c000" stroke-width="4" stroke-linejoin="round"/>
<circle cx="1439.50" cy="152.93" r="7.5" fill="#00c000"/>
<circle cx="1526.16" cy="120.02" r="7.5" fill="#00c000"/>
<circle cx="1612.82" cy="94.91" r="7.5" fill="#00c000"/>
<circle cx="1699.48" cy="110.93" r="7.5" fill="#00c000"/>
<circle cx="1786.14" cy="126.95" r="7.5" fill="#00c000"/>
<circle cx="1872.80" cy="177.18" r="7.5" fill="#00c000"/>
<polyline points="1439.50,132.58 1526.16,102.27 1612.82,80.62 1699.48,110.93 1786.14,130.85 1872.80,171.98" fill="none" stroke="#0000ff" stroke-width="4" stroke-linejoin="round"/>
<circle cx="1439.50" cy="132.58" r="7.5" fill="#0000ff"/>
<circle cx="1526.16" cy="102.27" r="7.5" fill="#0000ff"/>
<circle cx="1612.82" cy="80.62" r="7.5" fill="#0000ff"/>
<circle cx="1699.48" cy="110.93" r="7.5" fill="#0000ff"/>
<circle cx="1786.14" cy="130.85" r="7.5" fill="#0000ff"/>
<circle cx="1872.80" cy="171.98" r="7.5" fill="#0000ff"/>
<polyline points="1439.50,135.18 1526.16,103.57 1612.82,72.39 1699.48,93.61 1786.14,109.20 1872.80,136.04" fill="none" stroke="#ff0000" stroke-width="4" stroke-linejoin="round"/>
<circle cx="1439.50" cy="135.18" r="7.5" fill="#ff0000"/>
<circle cx="1526.16" cy="103.57" r="7.5" fill="#ff0000"/>
<circle cx="1612.82" cy="72.39" r="7.5" fill="#ff0000"/>
<circle cx="1699.48" cy="93.61" r="7.5" fill="#ff0000"/>
<circle cx="1786.14" cy="109.20" r="7.5" fill="#ff0000"/>
<circle cx="1872.80" cy="136.04" r="7.5" fill="#ff0000"/>
<rect x="1428.70" y="50.10" width="455.80" height="454.90" fill="none" stroke="#000" stroke-width="2.7"/>
<line x1="1413.70" y1="493.70" x2="1428.70" y2="493.70" stroke="#000" stroke-width="2.6" stroke-linecap="butt"/>
<line x1="1420.70" y1="472.05" x2="1428.70" y2="472.05" stroke="#000" stroke-width="2.6" stroke-linecap="butt"/>
<line x1="1420.70" y1="450.40" x2="1428.70" y2="450.40" stroke="#000" stroke-width="2.6" stroke-linecap="butt"/>
<line x1="1420.70" y1="428.75" x2="1428.70" y2="428.75" stroke="#000" stroke-width="2.6" stroke-linecap="butt"/>
<line x1="1413.70" y1="407.10" x2="1428.70" y2="407.10" stroke="#000" stroke-width="2.6" stroke-linecap="butt"/>
<line x1="1420.70" y1="385.45" x2="1428.70" y2="385.45" stroke="#000" stroke-width="2.6" stroke-linecap="butt"/>
<line x1="1420.70" y1="363.80" x2="1428.70" y2="363.80" stroke="#000" stroke-width="2.6" stroke-linecap="butt"/>
<line x1="1420.70" y1="342.15" x2="1428.70" y2="342.15" stroke="#000" stroke-width="2.6" stroke-linecap="butt"/>
<line x1="1413.70" y1="320.50" x2="1428.70" y2="320.50" stroke="#000" stroke-width="2.6" stroke-linecap="butt"/>
<line x1="1420.70" y1="298.85" x2="1428.70" y2="298.85" stroke="#000" stroke-width="2.6" stroke-linecap="butt"/>
<line x1="1420.70" y1="277.20" x2="1428.70" y2="277.20" stroke="#000" stroke-width="2.6" stroke-linecap="butt"/>
<line x1="1420.70" y1="255.55" x2="1428.70" y2="255.55" stroke="#000" stroke-width="2.6" stroke-linecap="butt"/>
<line x1="1413.70" y1="233.90" x2="1428.70" y2="233.90" stroke="#000" stroke-width="2.6" stroke-linecap="butt"/>
<line x1="1420.70" y1="212.25" x2="1428.70" y2="212.25" stroke="#000" stroke-width="2.6" stroke-linecap="butt"/>
<line x1="1420.70" y1="190.60" x2="1428.70" y2="190.60" stroke="#000" stroke-width="2.6" stroke-linecap="butt"/>
<line x1="1420.70" y1="168.95" x2="1428.70" y2="168.95" stroke="#000" stroke-width="2.6" stroke-linecap="butt"/>
<line x1="1413.70" y1="147.30" x2="1428.70" y2="147.30" stroke="#000" stroke-width="2.6" stroke-linecap="butt"/>
<line x1="1420.70" y1="125.65" x2="1428.70" y2="125.65" stroke="#000" stroke-width="2.6" stroke-linecap="butt"/>
<line x1="1420.70" y1="104.00" x2="1428.70" y2="104.00" stroke="#000" stroke-width="2.6" stroke-linecap="butt"/>
<line x1="1420.70" y1="82.35" x2="1428.70" y2="82.35" stroke="#000" stroke-width="2.6" stroke-linecap="butt"/>
<line x1="1413.70" y1="60.70" x2="1428.70" y2="60.70" stroke="#000" stroke-width="2.6" stroke-linecap="butt"/>
<text x="1406.70" y="503.10" font-size="26.5" text-anchor="end" fill="#000">0</text>
<text x="1406.70" y="416.50" font-size="26.5" text-anchor="end" fill="#000">20</text>
<text x="1406.70" y="329.90" font-size="26.5" text-anchor="end" fill="#000">40</text>
<text x="1406.70" y="243.30" font-size="26.5" text-anchor="end" fill="#000">60</text>
<text x="1406.70" y="156.70" font-size="26.5" text-anchor="end" fill="#000">80</text>
<text x="1406.70" y="70.10" font-size="26.5" text-anchor="end" fill="#000">100</text>
<line x1="1439.50" y1="505.00" x2="1439.50" y2="520.00" stroke="#000" stroke-width="2.6" stroke-linecap="butt"/>
<line x1="1461.16" y1="505.00" x2="1461.16" y2="513.00" stroke="#000" stroke-width="2.6" stroke-linecap="butt"/>
<line x1="1482.83" y1="505.00" x2="1482.83" y2="513.00" stroke="#000" stroke-width="2.6" stroke-linecap="butt"/>
<line x1="1504.49" y1="505.00" x2="1504.49" y2="513.00" stroke="#000" stroke-width="2.6" stroke-linecap="butt"/>
<line x1="1526.16" y1="505.00" x2="1526.16" y2="520.00" stroke="#000" stroke-width="2.6" stroke-linecap="butt"/>
<line x1="1547.83" y1="505.00" x2="1547.83" y2="513.00" stroke="#000" stroke-width="2.6" stroke-linecap="butt"/>
<line x1="1569.49" y1="505.00" x2="1569.49" y2="513.00" stroke="#000" stroke-width="2.6" stroke-linecap="butt"/>
<line x1="1591.15" y1="505.00" x2="1591.15" y2="513.00" stroke="#000" stroke-width="2.6" stroke-linecap="butt"/>
<line x1="1612.82" y1="505.00" x2="1612.82" y2="520.00" stroke="#000" stroke-width="2.6" stroke-linecap="butt"/>
<line x1="1634.48" y1="505.00" x2="1634.48" y2="513.00" stroke="#000" stroke-width="2.6" stroke-linecap="butt"/>
<line x1="1656.15" y1="505.00" x2="1656.15" y2="513.00" stroke="#000" stroke-width="2.6" stroke-linecap="butt"/>
<line x1="1677.82" y1="505.00" x2="1677.82" y2="513.00" stroke="#000" stroke-width="2.6" stroke-linecap="butt"/>
<line x1="1699.48" y1="505.00" x2="1699.48" y2="520.00" stroke="#000" stroke-width="2.6" stroke-linecap="butt"/>
<line x1="1721.14" y1="505.00" x2="1721.14" y2="513.00" stroke="#000" stroke-width="2.6" stroke-linecap="butt"/>
<line x1="1742.81" y1="505.00" x2="1742.81" y2="513.00" stroke="#000" stroke-width="2.6" stroke-linecap="butt"/>
<line x1="1764.47" y1="505.00" x2="1764.47" y2="513.00" stroke="#000" stroke-width="2.6" stroke-linecap="butt"/>
<line x1="1786.14" y1="505.00" x2="1786.14" y2="520.00" stroke="#000" stroke-width="2.6" stroke-linecap="butt"/>
<line x1="1807.81" y1="505.00" x2="1807.81" y2="513.00" stroke="#000" stroke-width="2.6" stroke-linecap="butt"/>
<line x1="1829.47" y1="505.00" x2="1829.47" y2="513.00" stroke="#000" stroke-width="2.6" stroke-linecap="butt"/>
<line x1="1851.14" y1="505.00" x2="1851.14" y2="513.00" stroke="#000" stroke-width="2.6" stroke-linecap="butt"/>
<line x1="1872.80" y1="505.00" x2="1872.80" y2="520.00" stroke="#000" stroke-width="2.6" stroke-linecap="butt"/>
<text x="1439.50" y="553.00" font-size="26.5" text-anchor="middle" fill="#000">-1.0</text>
<text x="1526.16" y="553.00" font-size="26.5" text-anchor="middle" fill="#000">-0.9</text>
<text x="1612.82" y="553.00" font-size="26.5" text-anchor="middle" fill="#000">-0.8</text>
<text x="1699.48" y="553.00" font-size="26.5" text-anchor="middle" fill="#000">-0.7</text>
<text x="1786.14" y="553.00" font-size="26.5" text-anchor="middle" fill="#000">-0.6</text>
<text x="1872.80" y="553.00" font-size="26.5" text-anchor="middle" fill="#000">-0.5</text>
<text transform="translate(1505.32 588.90) scale(1.0441 1)" font-size="29.2" fill="#000">Potential (V vs. RHE)</text>
<text transform="translate(1331.20 340.31) rotate(-90) scale(0.9253 1)" font-size="31.8" fill="#000">FE</text>
<text transform="translate(1338.50 300.74) rotate(-90) scale(0.9200 1)" font-size="22.7" fill="#000">CO</text>
<text transform="translate(1331.20 260.85) rotate(-90) scale(0.9441 1)" font-size="31.8" fill="#000">(%)</text>
<polyline points="212.60,830.45 299.34,794.28 386.08,754.63 472.82,702.39 559.56,671.86 646.30,649.87" fill="none" stroke="#000000" stroke-width="3.6" stroke-linejoin="round"/>
<circle cx="212.60" cy="830.45" r="7.5" fill="#000000"/>
<circle cx="299.34" cy="794.28" r="7.5" fill="#000000"/>
<circle cx="386.08" cy="754.63" r="7.5" fill="#000000"/>
<circle cx="472.82" cy="702.39" r="7.5" fill="#000000"/>
<circle cx="559.56" cy="671.86" r="7.5" fill="#000000"/>
<circle cx="646.30" cy="649.87" r="7.5" fill="#000000"/>
<polyline points="212.60,980.94 299.34,892.67 386.08,818.88 472.82,752.75 559.56,701.67 646.30,668.39" fill="none" stroke="#66cc00" stroke-width="3.6" stroke-linejoin="round"/>
<circle cx="212.60" cy="980.94" r="7.5" fill="#66cc00"/>
<circle cx="299.34" cy="892.67" r="7.5" fill="#66cc00"/>
<circle cx="386.08" cy="818.88" r="7.5" fill="#66cc00"/>
<circle cx="472.82" cy="752.75" r="7.5" fill="#66cc00"/>
<circle cx="559.56" cy="701.67" r="7.5" fill="#66cc00"/>
<circle cx="646.30" cy="668.39" r="7.5" fill="#66cc00"/>
<polyline points="212.60,967.92 299.34,863.73 386.08,791.38 472.82,736.40 559.56,692.12 646.30,662.60" fill="none" stroke="#0000ff" stroke-width="3.6" stroke-linejoin="round"/>
<circle cx="212.60" cy="967.92" r="7.5" fill="#0000ff"/>
<circle cx="299.34" cy="863.73" r="7.5" fill="#0000ff"/>
<circle cx="386.08" cy="791.38" r="7.5" fill="#0000ff"/>
<circle cx="472.82" cy="736.40" r="7.5" fill="#0000ff"/>
<circle cx="559.56" cy="692.12" r="7.5" fill="#0000ff"/>
<circle cx="646.30" cy="662.60" r="7.5" fill="#0000ff"/>
<polyline points="212.60,1043.16 299.34,925.95 386.08,833.35 472.82,756.65 559.56,709.77 646.30,672.29" fill="none" stroke="#ff0000" stroke-width="3.6" stroke-linejoin="round"/>
<circle cx="212.60" cy="1043.16" r="7.5" fill="#ff0000"/>
<circle cx="299.34" cy="925.95" r="7.5" fill="#ff0000"/>
<circle cx="386.08" cy="833.35" r="7.5" fill="#ff0000"/>
<circle cx="472.82" cy="756.65" r="7.5" fill="#ff0000"/>
<circle cx="559.56" cy="709.77" r="7.5" fill="#ff0000"/>
<circle cx="646.30" cy="672.29" r="7.5" fill="#ff0000"/>
<rect x="201.60" y="627.00" width="455.70" height="456.10" fill="none" stroke="#000" stroke-width="2.7"/>
<line x1="186.60" y1="1072.10" x2="201.60" y2="1072.10" stroke="#000" stroke-width="2.6" stroke-linecap="butt"/>
<line x1="193.60" y1="1057.63" x2="201.60" y2="1057.63" stroke="#000" stroke-width="2.6" stroke-linecap="butt"/>
<line x1="193.60" y1="1043.16" x2="201.60" y2="1043.16" stroke="#000" stroke-width="2.6" stroke-linecap="butt"/>
<line x1="193.60" y1="1028.69" x2="201.60" y2="1028.69" stroke="#000" stroke-width="2.6" stroke-linecap="butt"/>
<line x1="193.60" y1="1014.22" x2="201.60" y2="1014.22" stroke="#000" stroke-width="2.6" stroke-linecap="butt"/>
<line x1="186.60" y1="999.75" x2="201.60" y2="999.75" stroke="#000" stroke-width="2.6" stroke-linecap="butt"/>
<line x1="193.60" y1="985.28" x2="201.60" y2="985.28" stroke="#000" stroke-width="2.6" stroke-linecap="butt"/>
<line x1="193.60" y1="970.81" x2="201.60" y2="970.81" stroke="#000" stroke-width="2.6" stroke-linecap="butt"/>
<line x1="193.60" y1="956.34" x2="201.60" y2="956.34" stroke="#000" stroke-width="2.6" stroke-linecap="butt"/>
<line x1="193.60" y1="941.87" x2="201.60" y2="941.87" stroke="#000" stroke-width="2.6" stroke-linecap="butt"/>
<line x1="186.60" y1="927.40" x2="201.60" y2="927.40" stroke="#000" stroke-width="2.6" stroke-linecap="butt"/>
<line x1="193.60" y1="912.93" x2="201.60" y2="912.93" stroke="#000" stroke-width="2.6" stroke-linecap="butt"/>
<line x1="193.60" y1="898.46" x2="201.60" y2="898.46" stroke="#000" stroke-width="2.6" stroke-linecap="butt"/>
<line x1="193.60" y1="883.99" x2="201.60" y2="883.99" stroke="#000" stroke-width="2.6" stroke-linecap="butt"/>
<line x1="193.60" y1="869.52" x2="201.60" y2="869.52" stroke="#000" stroke-width="2.6" stroke-linecap="butt"/>
<line x1="186.60" y1="855.05" x2="201.60" y2="855.05" stroke="#000" stroke-width="2.6" stroke-linecap="butt"/>
<line x1="193.60" y1="840.58" x2="201.60" y2="840.58" stroke="#000" stroke-width="2.6" stroke-linecap="butt"/>
<line x1="193.60" y1="826.11" x2="201.60" y2="826.11" stroke="#000" stroke-width="2.6" stroke-linecap="butt"/>
<line x1="193.60" y1="811.64" x2="201.60" y2="811.64" stroke="#000" stroke-width="2.6" stroke-linecap="butt"/>
<line x1="193.60" y1="797.17" x2="201.60" y2="797.17" stroke="#000" stroke-width="2.6" stroke-linecap="butt"/>
<line x1="186.60" y1="782.70" x2="201.60" y2="782.70" stroke="#000" stroke-width="2.6" stroke-linecap="butt"/>
<line x1="193.60" y1="768.23" x2="201.60" y2="768.23" stroke="#000" stroke-width="2.6" stroke-linecap="butt"/>
<line x1="193.60" y1="753.76" x2="201.60" y2="753.76" stroke="#000" stroke-width="2.6" stroke-linecap="butt"/>
<line x1="193.60" y1="739.29" x2="201.60" y2="739.29" stroke="#000" stroke-width="2.6" stroke-linecap="butt"/>
<line x1="193.60" y1="724.82" x2="201.60" y2="724.82" stroke="#000" stroke-width="2.6" stroke-linecap="butt"/>
<line x1="186.60" y1="710.35" x2="201.60" y2="710.35" stroke="#000" stroke-width="2.6" stroke-linecap="butt"/>
<line x1="193.60" y1="695.88" x2="201.60" y2="695.88" stroke="#000" stroke-width="2.6" stroke-linecap="butt"/>
<line x1="193.60" y1="681.41" x2="201.60" y2="681.41" stroke="#000" stroke-width="2.6" stroke-linecap="butt"/>
<line x1="193.60" y1="666.94" x2="201.60" y2="666.94" stroke="#000" stroke-width="2.6" stroke-linecap="butt"/>
<line x1="193.60" y1="652.47" x2="201.60" y2="652.47" stroke="#000" stroke-width="2.6" stroke-linecap="butt"/>
<line x1="186.60" y1="638.00" x2="201.60" y2="638.00" stroke="#000" stroke-width="2.6" stroke-linecap="butt"/>
<text x="179.60" y="1081.50" font-size="26.5" text-anchor="end" fill="#000">-30</text>
<text x="179.60" y="1009.15" font-size="26.5" text-anchor="end" fill="#000">-25</text>
<text x="179.60" y="936.80" font-size="26.5" text-anchor="end" fill="#000">-20</text>
<text x="179.60" y="864.45" font-size="26.5" text-anchor="end" fill="#000">-15</text>
<text x="179.60" y="792.10" font-size="26.5" text-anchor="end" fill="#000">-10</text>
<text x="179.60" y="719.75" font-size="26.5" text-anchor="end" fill="#000">-5</text>
<text x="179.60" y="647.40" font-size="26.5" text-anchor="end" fill="#000">0</text>
<line x1="212.60" y1="1083.10" x2="212.60" y2="1098.10" stroke="#000" stroke-width="2.6" stroke-linecap="butt"/>
<line x1="234.29" y1="1083.10" x2="234.29" y2="1091.10" stroke="#000" stroke-width="2.6" stroke-linecap="butt"/>
<line x1="255.97" y1="1083.10" x2="255.97" y2="1091.10" stroke="#000" stroke-width="2.6" stroke-linecap="butt"/>
<line x1="277.65" y1="1083.10" x2="277.65" y2="1091.10" stroke="#000" stroke-width="2.6" stroke-linecap="butt"/>
<line x1="299.34" y1="1083.10" x2="299.34" y2="1098.10" stroke="#000" stroke-width="2.6" stroke-linecap="butt"/>
<line x1="321.02" y1="1083.10" x2="321.02" y2="1091.10" stroke="#000" stroke-width="2.6" stroke-linecap="butt"/>
<line x1="342.71" y1="1083.10" x2="342.71" y2="1091.10" stroke="#000" stroke-width="2.6" stroke-linecap="butt"/>
<line x1="364.40" y1="1083.10" x2="364.40" y2="1091.10" stroke="#000" stroke-width="2.6" stroke-linecap="butt"/>
<line x1="386.08" y1="1083.10" x2="386.08" y2="1098.10" stroke="#000" stroke-width="2.6" stroke-linecap="butt"/>
<line x1="407.76" y1="1083.10" x2="407.76" y2="1091.10" stroke="#000" stroke-width="2.6" stroke-linecap="butt"/>
<line x1="429.45" y1="1083.10" x2="429.45" y2="1091.10" stroke="#000" stroke-width="2.6" stroke-linecap="butt"/>
<line x1="451.13" y1="1083.10" x2="451.13" y2="1091.10" stroke="#000" stroke-width="2.6" stroke-linecap="butt"/>
<line x1="472.82" y1="1083.10" x2="472.82" y2="1098.10" stroke="#000" stroke-width="2.6" stroke-linecap="butt"/>
<line x1="494.50" y1="1083.10" x2="494.50" y2="1091.10" stroke="#000" stroke-width="2.6" stroke-linecap="butt"/>
<line x1="516.19" y1="1083.10" x2="516.19" y2="1091.10" stroke="#000" stroke-width="2.6" stroke-linecap="butt"/>
<line x1="537.88" y1="1083.10" x2="537.88" y2="1091.10" stroke="#000" stroke-width="2.6" stroke-linecap="butt"/>
<line x1="559.56" y1="1083.10" x2="559.56" y2="1098.10" stroke="#000" stroke-width="2.6" stroke-linecap="butt"/>
<line x1="581.25" y1="1083.10" x2="581.25" y2="1091.10" stroke="#000" stroke-width="2.6" stroke-linecap="butt"/>
<line x1="602.93" y1="1083.10" x2="602.93" y2="1091.10" stroke="#000" stroke-width="2.6" stroke-linecap="butt"/>
<line x1="624.62" y1="1083.10" x2="624.62" y2="1091.10" stroke="#000" stroke-width="2.6" stroke-linecap="butt"/>
<line x1="646.30" y1="1083.10" x2="646.30" y2="1098.10" stroke="#000" stroke-width="2.6" stroke-linecap="butt"/>
<text x="212.60" y="1131.10" font-size="26.5" text-anchor="middle" fill="#000">-1.0</text>
<text x="299.34" y="1131.10" font-size="26.5" text-anchor="middle" fill="#000">-0.9</text>
<text x="386.08" y="1131.10" font-size="26.5" text-anchor="middle" fill="#000">-0.8</text>
<text x="472.82" y="1131.10" font-size="26.5" text-anchor="middle" fill="#000">-0.7</text>
<text x="559.56" y="1131.10" font-size="26.5" text-anchor="middle" fill="#000">-0.6</text>
<text x="646.30" y="1131.10" font-size="26.5" text-anchor="middle" fill="#000">-0.5</text>
<text transform="translate(279.12 1166.60) scale(1.0203 1)" font-size="29.8" fill="#000">Potential (V vs. RHE)</text>
<text transform="translate(113.60 1065.92) rotate(-90) scale(0.9689 1)" font-size="31.4" fill="#000">CO current density (mA cm</text>
<text transform="translate(92.70 671.11) rotate(-90) scale(0.9722 1)" font-size="21.0" fill="#000">-2</text>
<text transform="translate(113.60 651.00) rotate(-90) scale(0.7934 1)" font-size="31.4" fill="#000">)</text>
<polyline points="840.60,893.59 927.46,927.21 1014.32,965.18 1101.18,1014.01 1188.04,1043.59 1274.90,1064.42" fill="none" stroke="#000000" stroke-width="3.8" stroke-linejoin="round"/>
<circle cx="840.60" cy="893.59" r="7.5" fill="#000000"/>
<circle cx="927.46" cy="927.21" r="7.5" fill="#000000"/>
<circle cx="1014.32" cy="965.18" r="7.5" fill="#000000"/>
<circle cx="1101.18" cy="1014.01" r="7.5" fill="#000000"/>
<circle cx="1188.04" cy="1043.59" r="7.5" fill="#000000"/>
<circle cx="1274.90" cy="1064.42" r="7.5" fill="#000000"/>
<polyline points="840.60,751.60 927.46,834.71 1014.32,904.03 1101.18,966.91 1188.04,1013.32 1274.90,1049.28" fill="none" stroke="#00c000" stroke-width="3.8" stroke-linejoin="round"/>
<circle cx="840.60" cy="751.60" r="7.5" fill="#00c000"/>
<circle cx="927.46" cy="834.71" r="7.5" fill="#00c000"/>
<circle cx="1014.32" cy="904.03" r="7.5" fill="#00c000"/>
<circle cx="1101.18" cy="966.91" r="7.5" fill="#00c000"/>
<circle cx="1188.04" cy="1013.32" r="7.5" fill="#00c000"/>
<circle cx="1274.90" cy="1049.28" r="7.5" fill="#00c000"/>
<polyline points="840.60,743.90 927.46,848.19 1014.32,920.82 1101.18,976.00 1188.04,1019.71 1274.90,1050.28" fill="none" stroke="#0000ff" stroke-width="3.8" stroke-linejoin="round"/>
<circle cx="840.60" cy="743.90" r="7.5" fill="#0000ff"/>
<circle cx="927.46" cy="848.19" r="7.5" fill="#0000ff"/>
<circle cx="1014.32" cy="920.82" r="7.5" fill="#0000ff"/>
<circle cx="1101.18" cy="976.00" r="7.5" fill="#0000ff"/>
<circle cx="1188.04" cy="1019.71" r="7.5" fill="#0000ff"/>
<circle cx="1274.90" cy="1050.28" r="7.5" fill="#0000ff"/>
<polyline points="840.60,643.00 927.46,768.51 1014.32,867.02 1101.18,948.39 1188.04,997.18 1274.90,1038.19" fill="none" stroke="#ff0000" stroke-width="3.8" stroke-linejoin="round"/>
<circle cx="840.60" cy="643.00" r="7.5" fill="#ff0000"/>
<circle cx="927.46" cy="768.51" r="7.5" fill="#ff0000"/>
<circle cx="1014.32" cy="867.02" r="7.5" fill="#ff0000"/>
<circle cx="1101.18" cy="948.39" r="7.5" fill="#ff0000"/>
<circle cx="1188.04" cy="997.18" r="7.5" fill="#ff0000"/>
<circle cx="1274.90" cy="1038.19" r="7.5" fill="#ff0000"/>
<rect x="828.90" y="627.90" width="458.40" height="456.70" fill="none" stroke="#000" stroke-width="2.7"/>
<line x1="813.90" y1="1073.90" x2="828.90" y2="1073.90" stroke="#000" stroke-width="2.6" stroke-linecap="butt"/>
<line x1="820.90" y1="1052.16" x2="828.90" y2="1052.16" stroke="#000" stroke-width="2.6" stroke-linecap="butt"/>
<line x1="820.90" y1="1030.41" x2="828.90" y2="1030.41" stroke="#000" stroke-width="2.6" stroke-linecap="butt"/>
<line x1="820.90" y1="1008.67" x2="828.90" y2="1008.67" stroke="#000" stroke-width="2.6" stroke-linecap="butt"/>
<line x1="813.90" y1="986.92" x2="828.90" y2="986.92" stroke="#000" stroke-width="2.6" stroke-linecap="butt"/>
<line x1="820.90" y1="965.18" x2="828.90" y2="965.18" stroke="#000" stroke-width="2.6" stroke-linecap="butt"/>
<line x1="820.90" y1="943.43" x2="828.90" y2="943.43" stroke="#000" stroke-width="2.6" stroke-linecap="butt"/>
<line x1="820.90" y1="921.69" x2="828.90" y2="921.69" stroke="#000" stroke-width="2.6" stroke-linecap="butt"/>
<line x1="813.90" y1="899.94" x2="828.90" y2="899.94" stroke="#000" stroke-width="2.6" stroke-linecap="butt"/>
<line x1="820.90" y1="878.20" x2="828.90" y2="878.20" stroke="#000" stroke-width="2.6" stroke-linecap="butt"/>
<line x1="820.90" y1="856.45" x2="828.90" y2="856.45" stroke="#000" stroke-width="2.6" stroke-linecap="butt"/>
<line x1="820.90" y1="834.71" x2="828.90" y2="834.71" stroke="#000" stroke-width="2.6" stroke-linecap="butt"/>
<line x1="813.90" y1="812.96" x2="828.90" y2="812.96" stroke="#000" stroke-width="2.6" stroke-linecap="butt"/>
<line x1="820.90" y1="791.22" x2="828.90" y2="791.22" stroke="#000" stroke-width="2.6" stroke-linecap="butt"/>
<line x1="820.90" y1="769.47" x2="828.90" y2="769.47" stroke="#000" stroke-width="2.6" stroke-linecap="butt"/>
<line x1="820.90" y1="747.73" x2="828.90" y2="747.73" stroke="#000" stroke-width="2.6" stroke-linecap="butt"/>
<line x1="813.90" y1="725.98" x2="828.90" y2="725.98" stroke="#000" stroke-width="2.6" stroke-linecap="butt"/>
<line x1="820.90" y1="704.24" x2="828.90" y2="704.24" stroke="#000" stroke-width="2.6" stroke-linecap="butt"/>
<line x1="820.90" y1="682.49" x2="828.90" y2="682.49" stroke="#000" stroke-width="2.6" stroke-linecap="butt"/>
<line x1="820.90" y1="660.75" x2="828.90" y2="660.75" stroke="#000" stroke-width="2.6" stroke-linecap="butt"/>
<line x1="813.90" y1="639.00" x2="828.90" y2="639.00" stroke="#000" stroke-width="2.6" stroke-linecap="butt"/>
<text x="806.90" y="1083.30" font-size="26.5" text-anchor="end" fill="#000">0</text>
<text x="806.90" y="996.32" font-size="26.5" text-anchor="end" fill="#000">2000</text>
<text x="806.90" y="909.34" font-size="26.5" text-anchor="end" fill="#000">4000</text>
<text x="806.90" y="822.36" font-size="26.5" text-anchor="end" fill="#000">6000</text>
<text x="806.90" y="735.38" font-size="26.5" text-anchor="end" fill="#000">8000</text>
<text x="806.90" y="648.40" font-size="26.5" text-anchor="end" fill="#000">10000</text>
<line x1="840.60" y1="1084.60" x2="840.60" y2="1099.60" stroke="#000" stroke-width="2.6" stroke-linecap="butt"/>
<line x1="862.32" y1="1084.60" x2="862.32" y2="1092.60" stroke="#000" stroke-width="2.6" stroke-linecap="butt"/>
<line x1="884.03" y1="1084.60" x2="884.03" y2="1092.60" stroke="#000" stroke-width="2.6" stroke-linecap="butt"/>
<line x1="905.75" y1="1084.60" x2="905.75" y2="1092.60" stroke="#000" stroke-width="2.6" stroke-linecap="butt"/>
<line x1="927.46" y1="1084.60" x2="927.46" y2="1099.60" stroke="#000" stroke-width="2.6" stroke-linecap="butt"/>
<line x1="949.18" y1="1084.60" x2="949.18" y2="1092.60" stroke="#000" stroke-width="2.6" stroke-linecap="butt"/>
<line x1="970.89" y1="1084.60" x2="970.89" y2="1092.60" stroke="#000" stroke-width="2.6" stroke-linecap="butt"/>
<line x1="992.61" y1="1084.60" x2="992.61" y2="1092.60" stroke="#000" stroke-width="2.6" stroke-linecap="butt"/>
<line x1="1014.32" y1="1084.60" x2="1014.32" y2="1099.60" stroke="#000" stroke-width="2.6" stroke-linecap="butt"/>
<line x1="1036.04" y1="1084.60" x2="1036.04" y2="1092.60" stroke="#000" stroke-width="2.6" stroke-linecap="butt"/>
<line x1="1057.75" y1="1084.60" x2="1057.75" y2="1092.60" stroke="#000" stroke-width="2.6" stroke-linecap="butt"/>
<line x1="1079.47" y1="1084.60" x2="1079.47" y2="1092.60" stroke="#000" stroke-width="2.6" stroke-linecap="butt"/>
<line x1="1101.18" y1="1084.60" x2="1101.18" y2="1099.60" stroke="#000" stroke-width="2.6" stroke-linecap="butt"/>
<line x1="1122.89" y1="1084.60" x2="1122.89" y2="1092.60" stroke="#000" stroke-width="2.6" stroke-linecap="butt"/>
<line x1="1144.61" y1="1084.60" x2="1144.61" y2="1092.60" stroke="#000" stroke-width="2.6" stroke-linecap="butt"/>
<line x1="1166.33" y1="1084.60" x2="1166.33" y2="1092.60" stroke="#000" stroke-width="2.6" stroke-linecap="butt"/>
<line x1="1188.04" y1="1084.60" x2="1188.04" y2="1099.60" stroke="#000" stroke-width="2.6" stroke-linecap="butt"/>
<line x1="1209.76" y1="1084.60" x2="1209.76" y2="1092.60" stroke="#000" stroke-width="2.6" stroke-linecap="butt"/>
<line x1="1231.47" y1="1084.60" x2="1231.47" y2="1092.60" stroke="#000" stroke-width="2.6" stroke-linecap="butt"/>
<line x1="1253.19" y1="1084.60" x2="1253.19" y2="1092.60" stroke="#000" stroke-width="2.6" stroke-linecap="butt"/>
<line x1="1274.90" y1="1084.60" x2="1274.90" y2="1099.60" stroke="#000" stroke-width="2.6" stroke-linecap="butt"/>
<text x="840.60" y="1132.60" font-size="26.5" text-anchor="middle" fill="#000">-1.0</text>
<text x="927.46" y="1132.60" font-size="26.5" text-anchor="middle" fill="#000">-0.9</text>
<text x="1014.32" y="1132.60" font-size="26.5" text-anchor="middle" fill="#000">-0.8</text>
<text x="1101.18" y="1132.60" font-size="26.5" text-anchor="middle" fill="#000">-0.7</text>
<text x="1188.04" y="1132.60" font-size="26.5" text-anchor="middle" fill="#000">-0.6</text>
<text x="1274.90" y="1132.60" font-size="26.5" text-anchor="middle" fill="#000">-0.5</text>
<text transform="translate(906.82 1168.90) scale(1.0003 1)" font-size="30.5" fill="#000">Potential (V vs. RHE)</text>
<text transform="translate(710.80 919.80) rotate(-90) scale(0.9659 1)" font-size="31.5" fill="#000">TOF (h</text>
<text transform="translate(689.90 821.63) rotate(-90) scale(0.8387 1)" font-size="21.6" fill="#000">-1</text>
<text transform="translate(710.80 801.80) rotate(-90) scale(0.8354 1)" font-size="31.5" fill="#000">)</text>
<line x1="1512.97" y1="1020.50" x2="1804.05" y2="849.50" stroke="#000000" stroke-width="3.6" stroke-linecap="butt"/>
<line x1="1512.97" y1="1035.20" x2="1804.05" y2="778.20" stroke="#ff0000" stroke-width="3.6" stroke-linecap="butt"/>
<line x1="1512.97" y1="1013.30" x2="1804.05" y2="749.70" stroke="#0000ff" stroke-width="3.6" stroke-linecap="butt"/>
<line x1="1512.97" y1="994.80" x2="1804.05" y2="701.00" stroke="#00c000" stroke-width="3.6" stroke-linecap="butt"/>
<circle cx="1512.97" cy="1027.90" r="7.5" fill="#000000"/>
<circle cx="1585.74" cy="970.76" r="7.5" fill="#000000"/>
<circle cx="1731.28" cy="891.74" r="7.5" fill="#000000"/>
<circle cx="1804.05" cy="862.14" r="7.5" fill="#000000"/>
<circle cx="1512.97" cy="1031.76" r="7.5" fill="#ff0000"/>
<circle cx="1585.74" cy="970.76" r="7.5" fill="#ff0000"/>
<circle cx="1658.51" cy="914.90" r="7.5" fill="#ff0000"/>
<circle cx="1731.28" cy="862.14" r="7.5" fill="#ff0000"/>
<circle cx="1804.05" cy="760.46" r="7.5" fill="#ff0000"/>
<circle cx="1512.97" cy="1015.03" r="7.5" fill="#0000ff"/>
<circle cx="1585.74" cy="943.73" r="7.5" fill="#0000ff"/>
<circle cx="1658.51" cy="876.55" r="7.5" fill="#0000ff"/>
<circle cx="1731.28" cy="816.83" r="7.5" fill="#0000ff"/>
<circle cx="1804.05" cy="748.11" r="7.5" fill="#0000ff"/>
<circle cx="1512.97" cy="1009.99" r="7.5" fill="#00c000"/>
<circle cx="1585.74" cy="907.44" r="7.5" fill="#00c000"/>
<circle cx="1658.51" cy="837.68" r="7.5" fill="#00c000"/>
<circle cx="1731.28" cy="773.85" r="7.5" fill="#00c000"/>
<circle cx="1804.05" cy="706.92" r="7.5" fill="#00c000"/>
<rect x="1428.80" y="629.40" width="459.10" height="459.50" fill="none" stroke="#000" stroke-width="2.7"/>
<line x1="1420.80" y1="1077.58" x2="1428.80" y2="1077.58" stroke="#000" stroke-width="2.6" stroke-linecap="butt"/>
<line x1="1420.80" y1="1051.84" x2="1428.80" y2="1051.84" stroke="#000" stroke-width="2.6" stroke-linecap="butt"/>
<line x1="1413.80" y1="1026.10" x2="1428.80" y2="1026.10" stroke="#000" stroke-width="2.6" stroke-linecap="butt"/>
<line x1="1420.80" y1="1000.36" x2="1428.80" y2="1000.36" stroke="#000" stroke-width="2.6" stroke-linecap="butt"/>
<line x1="1420.80" y1="974.62" x2="1428.80" y2="974.62" stroke="#000" stroke-width="2.6" stroke-linecap="butt"/>
<line x1="1413.80" y1="948.88" x2="1428.80" y2="948.88" stroke="#000" stroke-width="2.6" stroke-linecap="butt"/>
<line x1="1420.80" y1="923.14" x2="1428.80" y2="923.14" stroke="#000" stroke-width="2.6" stroke-linecap="butt"/>
<line x1="1420.80" y1="897.40" x2="1428.80" y2="897.40" stroke="#000" stroke-width="2.6" stroke-linecap="butt"/>
<line x1="1413.80" y1="871.66" x2="1428.80" y2="871.66" stroke="#000" stroke-width="2.6" stroke-linecap="butt"/>
<line x1="1420.80" y1="845.92" x2="1428.80" y2="845.92" stroke="#000" stroke-width="2.6" stroke-linecap="butt"/>
<line x1="1420.80" y1="820.18" x2="1428.80" y2="820.18" stroke="#000" stroke-width="2.6" stroke-linecap="butt"/>
<line x1="1413.80" y1="794.44" x2="1428.80" y2="794.44" stroke="#000" stroke-width="2.6" stroke-linecap="butt"/>
<line x1="1420.80" y1="768.70" x2="1428.80" y2="768.70" stroke="#000" stroke-width="2.6" stroke-linecap="butt"/>
<line x1="1420.80" y1="742.96" x2="1428.80" y2="742.96" stroke="#000" stroke-width="2.6" stroke-linecap="butt"/>
<line x1="1413.80" y1="717.22" x2="1428.80" y2="717.22" stroke="#000" stroke-width="2.6" stroke-linecap="butt"/>
<line x1="1420.80" y1="691.48" x2="1428.80" y2="691.48" stroke="#000" stroke-width="2.6" stroke-linecap="butt"/>
<line x1="1420.80" y1="665.74" x2="1428.80" y2="665.74" stroke="#000" stroke-width="2.6" stroke-linecap="butt"/>
<line x1="1413.80" y1="640.00" x2="1428.80" y2="640.00" stroke="#000" stroke-width="2.6" stroke-linecap="butt"/>
<text x="1406.80" y="1035.50" font-size="26.5" text-anchor="end" fill="#000">0.3</text>
<text x="1406.80" y="958.28" font-size="26.5" text-anchor="end" fill="#000">0.6</text>
<text x="1406.80" y="881.06" font-size="26.5" text-anchor="end" fill="#000">0.9</text>
<text x="1406.80" y="803.84" font-size="26.5" text-anchor="end" fill="#000">1.2</text>
<text x="1406.80" y="726.62" font-size="26.5" text-anchor="end" fill="#000">1.5</text>
<text x="1406.80" y="649.40" font-size="26.5" text-anchor="end" fill="#000">1.8</text>
<line x1="1440.20" y1="1088.90" x2="1440.20" y2="1103.90" stroke="#000" stroke-width="2.6" stroke-linecap="butt"/>
<line x1="1464.46" y1="1088.90" x2="1464.46" y2="1096.90" stroke="#000" stroke-width="2.6" stroke-linecap="butt"/>
<line x1="1488.71" y1="1088.90" x2="1488.71" y2="1096.90" stroke="#000" stroke-width="2.6" stroke-linecap="butt"/>
<line x1="1512.97" y1="1088.90" x2="1512.97" y2="1103.90" stroke="#000" stroke-width="2.6" stroke-linecap="butt"/>
<line x1="1537.23" y1="1088.90" x2="1537.23" y2="1096.90" stroke="#000" stroke-width="2.6" stroke-linecap="butt"/>
<line x1="1561.48" y1="1088.90" x2="1561.48" y2="1096.90" stroke="#000" stroke-width="2.6" stroke-linecap="butt"/>
<line x1="1585.74" y1="1088.90" x2="1585.74" y2="1103.90" stroke="#000" stroke-width="2.6" stroke-linecap="butt"/>
<line x1="1610.00" y1="1088.90" x2="1610.00" y2="1096.90" stroke="#000" stroke-width="2.6" stroke-linecap="butt"/>
<line x1="1634.25" y1="1088.90" x2="1634.25" y2="1096.90" stroke="#000" stroke-width="2.6" stroke-linecap="butt"/>
<line x1="1658.51" y1="1088.90" x2="1658.51" y2="1103.90" stroke="#000" stroke-width="2.6" stroke-linecap="butt"/>
<line x1="1682.77" y1="1088.90" x2="1682.77" y2="1096.90" stroke="#000" stroke-width="2.6" stroke-linecap="butt"/>
<line x1="1707.02" y1="1088.90" x2="1707.02" y2="1096.90" stroke="#000" stroke-width="2.6" stroke-linecap="butt"/>
<line x1="1731.28" y1="1088.90" x2="1731.28" y2="1103.90" stroke="#000" stroke-width="2.6" stroke-linecap="butt"/>
<line x1="1755.54" y1="1088.90" x2="1755.54" y2="1096.90" stroke="#000" stroke-width="2.6" stroke-linecap="butt"/>
<line x1="1779.79" y1="1088.90" x2="1779.79" y2="1096.90" stroke="#000" stroke-width="2.6" stroke-linecap="butt"/>
<line x1="1804.05" y1="1088.90" x2="1804.05" y2="1103.90" stroke="#000" stroke-width="2.6" stroke-linecap="butt"/>
<line x1="1828.31" y1="1088.90" x2="1828.31" y2="1096.90" stroke="#000" stroke-width="2.6" stroke-linecap="butt"/>
<line x1="1852.56" y1="1088.90" x2="1852.56" y2="1096.90" stroke="#000" stroke-width="2.6" stroke-linecap="butt"/>
<line x1="1876.82" y1="1088.90" x2="1876.82" y2="1103.90" stroke="#000" stroke-width="2.6" stroke-linecap="butt"/>
<text x="1440.20" y="1136.90" font-size="26.5" text-anchor="middle" fill="#000">0</text>
<text x="1512.97" y="1136.90" font-size="26.5" text-anchor="middle" fill="#000">10</text>
<text x="1585.74" y="1136.90" font-size="26.5" text-anchor="middle" fill="#000">20</text>
<text x="1658.51" y="1136.90" font-size="26.5" text-anchor="middle" fill="#000">30</text>
<text x="1731.28" y="1136.90" font-size="26.5" text-anchor="middle" fill="#000">40</text>
<text x="1804.05" y="1136.90" font-size="26.5" text-anchor="middle" fill="#000">50</text>
<text x="1876.82" y="1136.90" font-size="26.5" text-anchor="middle" fill="#000">60</text>
<text transform="translate(1529.23 1183.60) scale(0.9864 1)" font-size="31.1" fill="#000">Scan rate (mV s</text>
<text transform="translate(1760.36 1162.20) scale(0.9414 1)" font-size="19.5" fill="#000">-1</text>
<text transform="translate(1778.00 1183.60) scale(1.0154 1)" font-size="31.1" fill="#000">)</text>
<text transform="translate(1339.80 1047.13) rotate(-90) scale(0.9764 1)" font-size="31.5" fill="#000">Current density (mA cm</text>
<text transform="translate(1319.30 697.18) rotate(-90) scale(0.8756 1)" font-size="22.2" fill="#000">-2</text>
<text transform="translate(1339.80 678.70) rotate(-90) scale(0.8911 1)" font-size="31.5" fill="#000">)</text>
<rect x="144" y="1196" width="1759" height="579" fill="#fcfcfc"/>
<rect x="288.00" y="1695.81" width="54.5" height="21.89" fill="#000000" stroke="#000" stroke-width="1.5"/>
<rect x="342.50" y="1681.71" width="54.5" height="35.99" fill="#33ff33" stroke="#000" stroke-width="1.5"/>
<rect x="397.00" y="1691.68" width="54.5" height="26.02" fill="#0000ff" stroke="#000" stroke-width="1.5"/>
<rect x="451.50" y="1678.18" width="54.5" height="39.52" fill="#ff0000" stroke="#000" stroke-width="1.5"/>
<rect x="561.00" y="1650.82" width="54.5" height="66.88" fill="#000000" stroke="#000" stroke-width="1.5"/>
<rect x="615.50" y="1627.72" width="54.5" height="89.98" fill="#33ff33" stroke="#000" stroke-width="1.5"/>
<rect x="670.00" y="1653.25" width="54.5" height="64.45" fill="#0000ff" stroke="#000" stroke-width="1.5"/>
<rect x="724.50" y="1633.31" width="54.5" height="84.39" fill="#ff0000" stroke="#000" stroke-width="1.5"/>
<rect x="834.00" y="1590.02" width="54.5" height="127.68" fill="#000000" stroke="#000" stroke-width="1.5"/>
<rect x="888.50" y="1559.86" width="54.5" height="157.84" fill="#33ff33" stroke="#000" stroke-width="1.5"/>
<rect x="943.00" y="1598.17" width="54.5" height="119.53" fill="#0000ff" stroke="#000" stroke-width="1.5"/>
<rect x="997.50" y="1579.56" width="54.5" height="138.14" fill="#ff0000" stroke="#000" stroke-width="1.5"/>
<rect x="1106.40" y="1488.00" width="54.5" height="229.70" fill="#000000" stroke="#000" stroke-width="1.5"/>
<rect x="1160.90" y="1468.42" width="54.5" height="249.28" fill="#33ff33" stroke="#000" stroke-width="1.5"/>
<rect x="1215.40" y="1516.45" width="54.5" height="201.25" fill="#0000ff" stroke="#000" stroke-width="1.5"/>
<rect x="1269.90" y="1491.04" width="54.5" height="226.66" fill="#ff0000" stroke="#000" stroke-width="1.5"/>
<rect x="1378.30" y="1406.89" width="54.5" height="310.81" fill="#000000" stroke="#000" stroke-width="1.5"/>
<rect x="1432.80" y="1366.28" width="54.5" height="351.42" fill="#33ff33" stroke="#000" stroke-width="1.5"/>
<rect x="1487.30" y="1438.87" width="54.5" height="278.83" fill="#0000ff" stroke="#000" stroke-width="1.5"/>
<rect x="1541.80" y="1383.79" width="54.5" height="333.91" fill="#ff0000" stroke="#000" stroke-width="1.5"/>
<rect x="1651.20" y="1336.24" width="54.5" height="381.46" fill="#000000" stroke="#000" stroke-width="1.5"/>
<rect x="1705.70" y="1247.11" width="54.5" height="470.59" fill="#33ff33" stroke="#000" stroke-width="1.5"/>
<rect x="1760.20" y="1344.75" width="54.5" height="372.95" fill="#0000ff" stroke="#000" stroke-width="1.5"/>
<rect x="1814.70" y="1249.18" width="54.5" height="468.52" fill="#ff0000" stroke="#000" stroke-width="1.5"/>
<rect x="261.00" y="1201.50" width="1635.50" height="516.20" fill="none" stroke="#000" stroke-width="3"/>
<line x1="253.00" y1="1717.70" x2="261.00" y2="1717.70" stroke="#000" stroke-width="2.8" stroke-linecap="butt"/>
<line x1="257.00" y1="1687.30" x2="261.00" y2="1687.30" stroke="#000" stroke-width="2.8" stroke-linecap="butt"/>
<line x1="253.00" y1="1656.90" x2="261.00" y2="1656.90" stroke="#000" stroke-width="2.8" stroke-linecap="butt"/>
<line x1="257.00" y1="1626.50" x2="261.00" y2="1626.50" stroke="#000" stroke-width="2.8" stroke-linecap="butt"/>
<line x1="253.00" y1="1596.10" x2="261.00" y2="1596.10" stroke="#000" stroke-width="2.8" stroke-linecap="butt"/>
<line x1="257.00" y1="1565.70" x2="261.00" y2="1565.70" stroke="#000" stroke-width="2.8" stroke-linecap="butt"/>
<line x1="253.00" y1="1535.30" x2="261.00" y2="1535.30" stroke="#000" stroke-width="2.8" stroke-linecap="butt"/>
<line x1="257.00" y1="1504.90" x2="261.00" y2="1504.90" stroke="#000" stroke-width="2.8" stroke-linecap="butt"/>
<line x1="253.00" y1="1474.50" x2="261.00" y2="1474.50" stroke="#000" stroke-width="2.8" stroke-linecap="butt"/>
<line x1="257.00" y1="1444.10" x2="261.00" y2="1444.10" stroke="#000" stroke-width="2.8" stroke-linecap="butt"/>
<line x1="253.00" y1="1413.70" x2="261.00" y2="1413.70" stroke="#000" stroke-width="2.8" stroke-linecap="butt"/>
<line x1="257.00" y1="1383.30" x2="261.00" y2="1383.30" stroke="#000" stroke-width="2.8" stroke-linecap="butt"/>
<line x1="253.00" y1="1352.90" x2="261.00" y2="1352.90" stroke="#000" stroke-width="2.8" stroke-linecap="butt"/>
<line x1="257.00" y1="1322.50" x2="261.00" y2="1322.50" stroke="#000" stroke-width="2.8" stroke-linecap="butt"/>
<line x1="253.00" y1="1292.10" x2="261.00" y2="1292.10" stroke="#000" stroke-width="2.8" stroke-linecap="butt"/>
<line x1="257.00" y1="1261.70" x2="261.00" y2="1261.70" stroke="#000" stroke-width="2.8" stroke-linecap="butt"/>
<line x1="253.00" y1="1231.30" x2="261.00" y2="1231.30" stroke="#000" stroke-width="2.8" stroke-linecap="butt"/>
<line x1="257.00" y1="1200.90" x2="261.00" y2="1200.90" stroke="#000" stroke-width="2.8" stroke-linecap="butt"/>
<text x="244.50" y="1729.10" font-size="36" text-anchor="end" fill="#000">0.000</text>
<text x="244.50" y="1668.30" font-size="36" text-anchor="end" fill="#000">0.005</text>
<text x="244.50" y="1607.50" font-size="36" text-anchor="end" fill="#000">0.010</text>
<text x="244.50" y="1546.70" font-size="36" text-anchor="end" fill="#000">0.015</text>
<text x="244.50" y="1485.90" font-size="36" text-anchor="end" fill="#000">0.020</text>
<text x="244.50" y="1425.10" font-size="36" text-anchor="end" fill="#000">0.025</text>
<text x="244.50" y="1364.30" font-size="36" text-anchor="end" fill="#000">0.030</text>
<text x="244.50" y="1303.50" font-size="36" text-anchor="end" fill="#000">0.035</text>
<text x="244.50" y="1242.70" font-size="36" text-anchor="end" fill="#000">0.040</text>
<line x1="397.00" y1="1717.70" x2="397.00" y2="1724.70" stroke="#000" stroke-width="2.5" stroke-linecap="butt"/>
<text x="397.00" y="1761.60" font-size="36" text-anchor="middle" fill="#000">-0.5</text>
<line x1="670.00" y1="1717.70" x2="670.00" y2="1724.70" stroke="#000" stroke-width="2.5" stroke-linecap="butt"/>
<text x="670.00" y="1761.60" font-size="36" text-anchor="middle" fill="#000">-0.6</text>
<line x1="943.00" y1="1717.70" x2="943.00" y2="1724.70" stroke="#000" stroke-width="2.5" stroke-linecap="butt"/>
<text x="943.00" y="1761.60" font-size="36" text-anchor="middle" fill="#000">-0.7</text>
<line x1="1215.40" y1="1717.70" x2="1215.40" y2="1724.70" stroke="#000" stroke-width="2.5" stroke-linecap="butt"/>
<text x="1215.40" y="1761.60" font-size="36" text-anchor="middle" fill="#000">-0.8</text>
<line x1="1487.30" y1="1717.70" x2="1487.30" y2="1724.70" stroke="#000" stroke-width="2.5" stroke-linecap="butt"/>
<text x="1487.30" y="1761.60" font-size="36" text-anchor="middle" fill="#000">-0.9</text>
<line x1="1760.20" y1="1717.70" x2="1760.20" y2="1724.70" stroke="#000" stroke-width="2.5" stroke-linecap="butt"/>
<text x="1760.20" y="1761.60" font-size="36" text-anchor="middle" fill="#000">-1</text>
<text transform="translate(906.71 1817.50) scale(0.9932 1)" font-size="33.9" fill="#000">Potential (V vs. RHE)</text>
<text transform="translate(118.00 1694.34) rotate(-90) scale(0.9591 1)" font-size="34.9" fill="#000">Current density (mA cm</text>
<text transform="translate(108.80 1314.27) rotate(-90) scale(0.9156 1)" font-size="23.9" fill="#000">-2</text>
<text transform="translate(118.00 1292.60) rotate(-90) scale(0.7842 1)" font-size="34.9" fill="#000">)</text>
</svg></body></html>
